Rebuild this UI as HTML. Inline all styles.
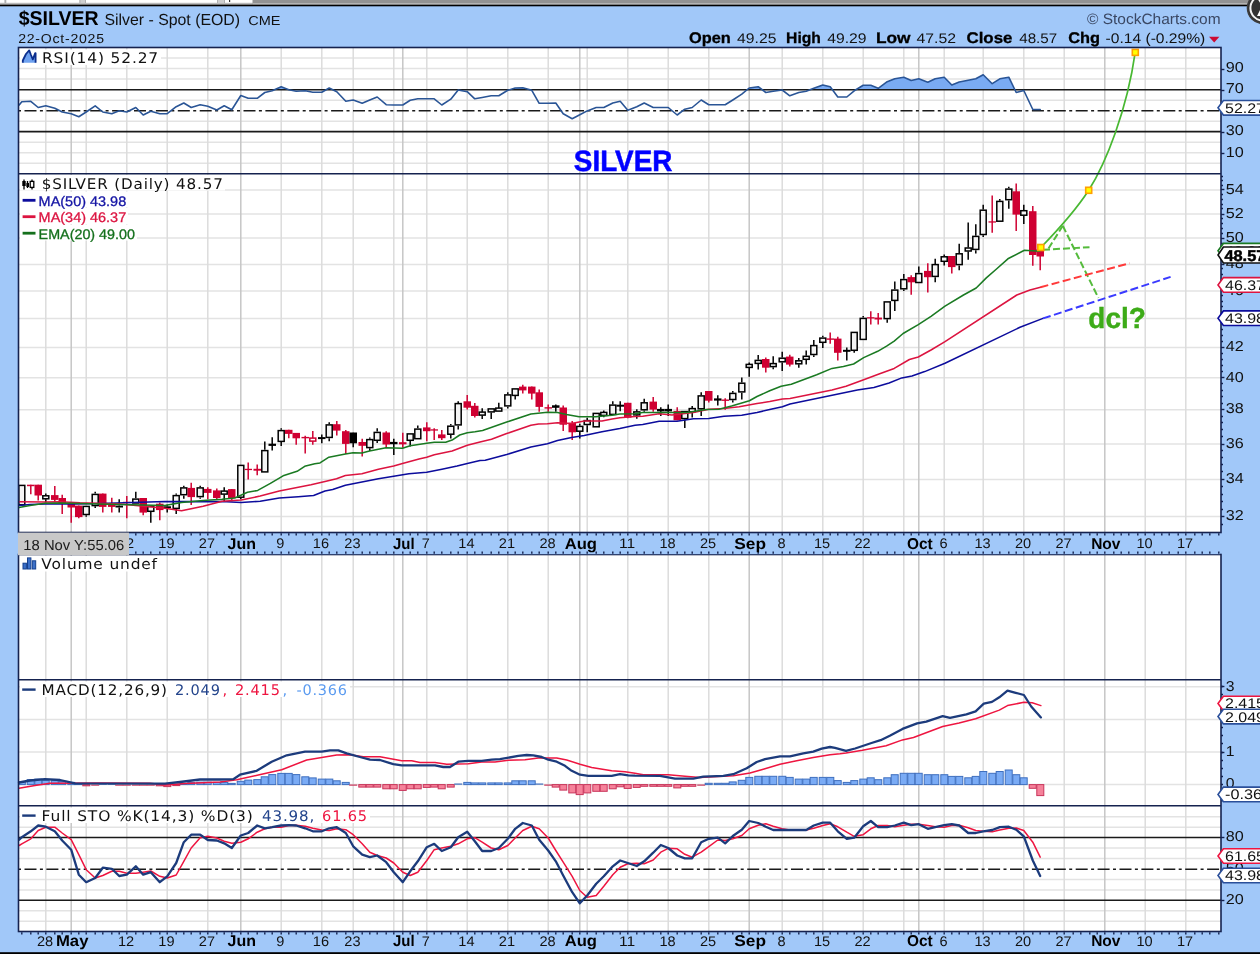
<!DOCTYPE html>
<html lang="en"><head><meta charset="utf-8"><title>$SILVER Silver - Spot (EOD) CME</title>
<style>html,body{margin:0;padding:0;background:#a1c8f9;overflow:hidden}svg{display:block;will-change:transform}text{white-space:pre}</style>
</head><body>
<svg width="1260" height="954" viewBox="0 0 1260 954" text-rendering="geometricPrecision">
<rect x="0" y="0" width="1260" height="954" fill="#a1c8f9"/>
<rect x="0" y="0" width="1260" height="5" fill="#ffffff"/>
<rect x="0" y="2.6" width="253" height="1" fill="#d9d9d9"/>
<rect x="0" y="3.4" width="253" height="1.4" fill="#9c9c9c"/>
<rect x="4.6" y="0" width="1.6" height="3" fill="#cfcfcf"/>
<rect x="4.6" y="0" width="0.8" height="3" fill="#a8a8a8"/>
<rect x="5.4" y="0" width="0.8" height="3" fill="#a8a8a8"/>
<rect x="79.5" y="0" width="6.5" height="3" fill="#cfcfcf"/>
<rect x="79.5" y="0" width="0.8" height="3" fill="#a8a8a8"/>
<rect x="85.2" y="0" width="0.8" height="3" fill="#a8a8a8"/>
<rect x="217" y="0" width="8" height="3" fill="#cfcfcf"/>
<rect x="217" y="0" width="0.8" height="3" fill="#a8a8a8"/>
<rect x="224.2" y="0" width="0.8" height="3" fill="#a8a8a8"/>
<rect x="229" y="0" width="1.2" height="2" fill="#333"/>
<rect x="252.5" y="0" width="1008" height="3.4" fill="#929292"/>
<rect x="252.5" y="3.3" width="1008" height="1.5" fill="#a6a6a6"/>
<rect x="0" y="4.7" width="1260" height="1.6" fill="#000"/>
<rect x="0" y="952.2" width="1260" height="2" fill="#000"/>
<circle cx="1263" cy="8" r="15.6" fill="#333" stroke="#3d3d3d" stroke-width="1.4"/>
<circle cx="1263" cy="8" r="12.6" fill="none" stroke="#f4f4f4" stroke-width="2"/>
<path d="M1257 -2 L1262 6 L1257 16 L1262 16 L1264 10 L1264 2 Z" fill="#fff"/>
<rect x="18.5" y="47.5" width="1202.5" height="485" fill="#fff"/>
<rect x="18.5" y="554.5" width="1202.5" height="377" fill="#fff"/>
<line x1="18.5" y1="163.3" x2="1221" y2="163.3" stroke="#e3e3e3" stroke-width="1.5"/>
<line x1="18.5" y1="152.8" x2="1221" y2="152.8" stroke="#e3e3e3" stroke-width="1.5"/>
<line x1="18.5" y1="142.2" x2="1221" y2="142.2" stroke="#e3e3e3" stroke-width="1.5"/>
<line x1="18.5" y1="121.2" x2="1221" y2="121.2" stroke="#e3e3e3" stroke-width="1.5"/>
<line x1="18.5" y1="100.2" x2="1221" y2="100.2" stroke="#e3e3e3" stroke-width="1.5"/>
<line x1="18.5" y1="79.1" x2="1221" y2="79.1" stroke="#e3e3e3" stroke-width="1.5"/>
<line x1="18.5" y1="68.6" x2="1221" y2="68.6" stroke="#e3e3e3" stroke-width="1.5"/>
<line x1="18.5" y1="58.1" x2="1221" y2="58.1" stroke="#e3e3e3" stroke-width="1.5"/>
<line x1="18.5" y1="189.9" x2="1221" y2="189.9" stroke="#e3e3e3" stroke-width="1.5"/>
<line x1="18.5" y1="214" x2="1221" y2="214" stroke="#e3e3e3" stroke-width="1.5"/>
<line x1="18.5" y1="238.1" x2="1221" y2="238.1" stroke="#e3e3e3" stroke-width="1.5"/>
<line x1="18.5" y1="264.6" x2="1221" y2="264.6" stroke="#e3e3e3" stroke-width="1.5"/>
<line x1="18.5" y1="291" x2="1221" y2="291" stroke="#e3e3e3" stroke-width="1.5"/>
<line x1="18.5" y1="318.4" x2="1221" y2="318.4" stroke="#e3e3e3" stroke-width="1.5"/>
<line x1="18.5" y1="347.6" x2="1221" y2="347.6" stroke="#e3e3e3" stroke-width="1.5"/>
<line x1="18.5" y1="377.8" x2="1221" y2="377.8" stroke="#e3e3e3" stroke-width="1.5"/>
<line x1="18.5" y1="409.7" x2="1221" y2="409.7" stroke="#e3e3e3" stroke-width="1.5"/>
<line x1="18.5" y1="444" x2="1221" y2="444" stroke="#e3e3e3" stroke-width="1.5"/>
<line x1="18.5" y1="479.5" x2="1221" y2="479.5" stroke="#e3e3e3" stroke-width="1.5"/>
<line x1="18.5" y1="516.4" x2="1221" y2="516.4" stroke="#e3e3e3" stroke-width="1.5"/>
<line x1="18.5" y1="784.6" x2="1221" y2="784.6" stroke="#e3e3e3" stroke-width="1.5"/>
<line x1="18.5" y1="752" x2="1221" y2="752" stroke="#e3e3e3" stroke-width="1.5"/>
<line x1="18.5" y1="719.4" x2="1221" y2="719.4" stroke="#e3e3e3" stroke-width="1.5"/>
<line x1="18.5" y1="686.8" x2="1221" y2="686.8" stroke="#e3e3e3" stroke-width="1.5"/>
<line x1="18.5" y1="921.3" x2="1221" y2="921.3" stroke="#e3e3e3" stroke-width="1.5"/>
<line x1="18.5" y1="910.8" x2="1221" y2="910.8" stroke="#e3e3e3" stroke-width="1.5"/>
<line x1="18.5" y1="889.9" x2="1221" y2="889.9" stroke="#e3e3e3" stroke-width="1.5"/>
<line x1="18.5" y1="879.5" x2="1221" y2="879.5" stroke="#e3e3e3" stroke-width="1.5"/>
<line x1="18.5" y1="858.6" x2="1221" y2="858.6" stroke="#e3e3e3" stroke-width="1.5"/>
<line x1="18.5" y1="848.1" x2="1221" y2="848.1" stroke="#e3e3e3" stroke-width="1.5"/>
<line x1="18.5" y1="827.2" x2="1221" y2="827.2" stroke="#e3e3e3" stroke-width="1.5"/>
<line x1="18.5" y1="816.8" x2="1221" y2="816.8" stroke="#e3e3e3" stroke-width="1.5"/>
<line x1="45.8" y1="47.5" x2="45.8" y2="532.5" stroke="#dcdcdc" stroke-width="1.5"/>
<line x1="45.8" y1="554.5" x2="45.8" y2="931.5" stroke="#dcdcdc" stroke-width="1.5"/>
<line x1="71.2" y1="47.5" x2="71.2" y2="532.5" stroke="#c6c6c6" stroke-width="1.5"/>
<line x1="71.2" y1="554.5" x2="71.2" y2="931.5" stroke="#c6c6c6" stroke-width="1.5"/>
<line x1="86.2" y1="47.5" x2="86.2" y2="532.5" stroke="#dcdcdc" stroke-width="1.5"/>
<line x1="86.2" y1="554.5" x2="86.2" y2="931.5" stroke="#dcdcdc" stroke-width="1.5"/>
<line x1="126.8" y1="47.5" x2="126.8" y2="532.5" stroke="#dcdcdc" stroke-width="1.5"/>
<line x1="126.8" y1="554.5" x2="126.8" y2="931.5" stroke="#dcdcdc" stroke-width="1.5"/>
<line x1="167.2" y1="47.5" x2="167.2" y2="532.5" stroke="#dcdcdc" stroke-width="1.5"/>
<line x1="167.2" y1="554.5" x2="167.2" y2="931.5" stroke="#dcdcdc" stroke-width="1.5"/>
<line x1="207.8" y1="47.5" x2="207.8" y2="532.5" stroke="#dcdcdc" stroke-width="1.5"/>
<line x1="207.8" y1="554.5" x2="207.8" y2="931.5" stroke="#dcdcdc" stroke-width="1.5"/>
<line x1="240.8" y1="47.5" x2="240.8" y2="532.5" stroke="#c6c6c6" stroke-width="1.5"/>
<line x1="240.8" y1="554.5" x2="240.8" y2="931.5" stroke="#c6c6c6" stroke-width="1.5"/>
<line x1="281.2" y1="47.5" x2="281.2" y2="532.5" stroke="#dcdcdc" stroke-width="1.5"/>
<line x1="281.2" y1="554.5" x2="281.2" y2="931.5" stroke="#dcdcdc" stroke-width="1.5"/>
<line x1="321.8" y1="47.5" x2="321.8" y2="532.5" stroke="#dcdcdc" stroke-width="1.5"/>
<line x1="321.8" y1="554.5" x2="321.8" y2="931.5" stroke="#dcdcdc" stroke-width="1.5"/>
<line x1="353.2" y1="47.5" x2="353.2" y2="532.5" stroke="#dcdcdc" stroke-width="1.5"/>
<line x1="353.2" y1="554.5" x2="353.2" y2="931.5" stroke="#dcdcdc" stroke-width="1.5"/>
<line x1="393.8" y1="47.5" x2="393.8" y2="532.5" stroke="#dcdcdc" stroke-width="1.5"/>
<line x1="393.8" y1="554.5" x2="393.8" y2="931.5" stroke="#dcdcdc" stroke-width="1.5"/>
<line x1="402.8" y1="47.5" x2="402.8" y2="532.5" stroke="#c6c6c6" stroke-width="1.5"/>
<line x1="402.8" y1="554.5" x2="402.8" y2="931.5" stroke="#c6c6c6" stroke-width="1.5"/>
<line x1="426.8" y1="47.5" x2="426.8" y2="532.5" stroke="#dcdcdc" stroke-width="1.5"/>
<line x1="426.8" y1="554.5" x2="426.8" y2="931.5" stroke="#dcdcdc" stroke-width="1.5"/>
<line x1="467.2" y1="47.5" x2="467.2" y2="532.5" stroke="#dcdcdc" stroke-width="1.5"/>
<line x1="467.2" y1="554.5" x2="467.2" y2="931.5" stroke="#dcdcdc" stroke-width="1.5"/>
<line x1="507.8" y1="47.5" x2="507.8" y2="532.5" stroke="#dcdcdc" stroke-width="1.5"/>
<line x1="507.8" y1="554.5" x2="507.8" y2="931.5" stroke="#dcdcdc" stroke-width="1.5"/>
<line x1="548.2" y1="47.5" x2="548.2" y2="532.5" stroke="#dcdcdc" stroke-width="1.5"/>
<line x1="548.2" y1="554.5" x2="548.2" y2="931.5" stroke="#dcdcdc" stroke-width="1.5"/>
<line x1="579.8" y1="47.5" x2="579.8" y2="532.5" stroke="#c6c6c6" stroke-width="1.5"/>
<line x1="579.8" y1="554.5" x2="579.8" y2="931.5" stroke="#c6c6c6" stroke-width="1.5"/>
<line x1="587.2" y1="47.5" x2="587.2" y2="532.5" stroke="#dcdcdc" stroke-width="1.5"/>
<line x1="587.2" y1="554.5" x2="587.2" y2="931.5" stroke="#dcdcdc" stroke-width="1.5"/>
<line x1="627.8" y1="47.5" x2="627.8" y2="532.5" stroke="#dcdcdc" stroke-width="1.5"/>
<line x1="627.8" y1="554.5" x2="627.8" y2="931.5" stroke="#dcdcdc" stroke-width="1.5"/>
<line x1="668.2" y1="47.5" x2="668.2" y2="532.5" stroke="#dcdcdc" stroke-width="1.5"/>
<line x1="668.2" y1="554.5" x2="668.2" y2="931.5" stroke="#dcdcdc" stroke-width="1.5"/>
<line x1="708.8" y1="47.5" x2="708.8" y2="532.5" stroke="#dcdcdc" stroke-width="1.5"/>
<line x1="708.8" y1="554.5" x2="708.8" y2="931.5" stroke="#dcdcdc" stroke-width="1.5"/>
<line x1="749.2" y1="47.5" x2="749.2" y2="532.5" stroke="#c6c6c6" stroke-width="1.5"/>
<line x1="749.2" y1="554.5" x2="749.2" y2="931.5" stroke="#c6c6c6" stroke-width="1.5"/>
<line x1="782.2" y1="47.5" x2="782.2" y2="532.5" stroke="#dcdcdc" stroke-width="1.5"/>
<line x1="782.2" y1="554.5" x2="782.2" y2="931.5" stroke="#dcdcdc" stroke-width="1.5"/>
<line x1="822.8" y1="47.5" x2="822.8" y2="532.5" stroke="#dcdcdc" stroke-width="1.5"/>
<line x1="822.8" y1="554.5" x2="822.8" y2="931.5" stroke="#dcdcdc" stroke-width="1.5"/>
<line x1="863.2" y1="47.5" x2="863.2" y2="532.5" stroke="#dcdcdc" stroke-width="1.5"/>
<line x1="863.2" y1="554.5" x2="863.2" y2="931.5" stroke="#dcdcdc" stroke-width="1.5"/>
<line x1="903.8" y1="47.5" x2="903.8" y2="532.5" stroke="#dcdcdc" stroke-width="1.5"/>
<line x1="903.8" y1="554.5" x2="903.8" y2="931.5" stroke="#dcdcdc" stroke-width="1.5"/>
<line x1="918.8" y1="47.5" x2="918.8" y2="532.5" stroke="#c6c6c6" stroke-width="1.5"/>
<line x1="918.8" y1="554.5" x2="918.8" y2="931.5" stroke="#c6c6c6" stroke-width="1.5"/>
<line x1="944.2" y1="47.5" x2="944.2" y2="532.5" stroke="#dcdcdc" stroke-width="1.5"/>
<line x1="944.2" y1="554.5" x2="944.2" y2="931.5" stroke="#dcdcdc" stroke-width="1.5"/>
<line x1="983.2" y1="47.5" x2="983.2" y2="532.5" stroke="#dcdcdc" stroke-width="1.5"/>
<line x1="983.2" y1="554.5" x2="983.2" y2="931.5" stroke="#dcdcdc" stroke-width="1.5"/>
<line x1="1023.8" y1="47.5" x2="1023.8" y2="532.5" stroke="#dcdcdc" stroke-width="1.5"/>
<line x1="1023.8" y1="554.5" x2="1023.8" y2="931.5" stroke="#dcdcdc" stroke-width="1.5"/>
<line x1="1064.2" y1="47.5" x2="1064.2" y2="532.5" stroke="#dcdcdc" stroke-width="1.5"/>
<line x1="1064.2" y1="554.5" x2="1064.2" y2="931.5" stroke="#dcdcdc" stroke-width="1.5"/>
<line x1="1104.8" y1="47.5" x2="1104.8" y2="532.5" stroke="#c6c6c6" stroke-width="1.5"/>
<line x1="1104.8" y1="554.5" x2="1104.8" y2="931.5" stroke="#c6c6c6" stroke-width="1.5"/>
<line x1="1145.2" y1="47.5" x2="1145.2" y2="532.5" stroke="#dcdcdc" stroke-width="1.5"/>
<line x1="1145.2" y1="554.5" x2="1145.2" y2="931.5" stroke="#dcdcdc" stroke-width="1.5"/>
<line x1="1185.8" y1="47.5" x2="1185.8" y2="532.5" stroke="#dcdcdc" stroke-width="1.5"/>
<line x1="1185.8" y1="554.5" x2="1185.8" y2="931.5" stroke="#dcdcdc" stroke-width="1.5"/>
<polygon fill="#7aabf3" points="274.4,89.8 281.2,86.7 288.8,89.7 289.2,89.8"/>
<polygon fill="#7aabf3" points="326,89.8 329.2,88 332.9,89.8"/>
<polygon fill="#7aabf3" points="509.4,89.8 515.2,88 522.8,87.7 530,89.8"/>
<polygon fill="#7aabf3" points="747.1,89.8 749.2,88 758.2,86.7 762.3,89.8"/>
<polygon fill="#7aabf3" points="809.9,89.8 813.8,88.3 822.8,85 830.2,86.7 832.5,89.8"/>
<polygon fill="#7aabf3" points="855.9,89.8 863.2,85.3 870.8,85.3 878.2,88.3 887.2,81.7 894.8,78.7 903.8,77.2 911.2,80.5 918.8,78.8 927.8,82.2 935.2,78.8 944.2,77.2 951.8,85 959.2,82 968.2,80.3 975.8,78.8 983.2,74.7 992.2,83.7 999.8,78.8 1008.8,77.2 1014.9,89.8"/>
<line x1="18.5" y1="89.8" x2="1221" y2="89.8" stroke="#1a1a1a" stroke-width="1.6"/>
<line x1="18.5" y1="131.6" x2="1221" y2="131.6" stroke="#1a1a1a" stroke-width="1.6"/>
<line x1="18.5" y1="110.7" x2="1221" y2="110.7" stroke="#1a1a1a" stroke-width="1.6" stroke-dasharray="12 3.4 3 3.5" stroke-dashoffset="15.9"/>
<polyline fill="none" stroke="#2a5596" stroke-width="1.6" stroke-linejoin="round" stroke-linecap="round" points="19.2,105 21.8,101.7 30.8,101.3 38.2,107.5 45.8,105.8 54.8,108.3 62.2,112 71.2,113.7 78.8,116.7 86.2,112 95.2,105.8 102.8,112 111.8,113.7 119.2,110.8 126.8,112 135.8,107.5 143.2,115 150.8,111.3 159.8,113.7 167.2,113.7 176.2,106.7 183.8,103 191.2,107.5 200.2,104.7 207.8,106.3 216.8,110 224.2,105.8 231.8,109.7 240.8,95.5 248.2,98.3 257.2,98.3 264.8,92.5 272.2,90.8 281.2,86.7 288.8,89.7 296.2,91.2 305.2,90.8 312.8,92.2 321.8,92.2 329.2,88 336.8,91.7 345.8,101.3 353.2,100 362.2,103.3 369.8,100 377.2,97 386.2,104.7 393.8,105 402.8,105 410.2,100.3 417.8,98.8 426.8,98.8 434.2,98.8 441.8,105 450.8,99.2 458.2,90 467.2,91.7 474.8,98.8 482.2,97.5 491.2,95.8 498.8,95.8 507.8,90.3 515.2,88 522.8,87.7 531.8,90.3 539.2,103.3 548.2,103.3 555.8,103 563.2,113.7 572.2,118.7 579.8,114.8 587.2,110.9 596.2,107.5 603.8,107.5 612.8,103 620.2,101.2 627.8,110.3 636.8,106.7 644.2,103 653.2,107.5 660.8,107.5 668.2,107.5 677.2,115 684.8,109.2 692.2,107.5 701.2,100 708.8,104.7 717.8,104.7 725.2,104.7 732.8,100 741.8,94.2 749.2,88 758.2,86.7 765.8,92.5 773.2,91.3 782.2,90 789.8,95.8 798.8,92.5 806.2,91.2 813.8,88.3 822.8,85 830.2,86.7 837.8,97 846.8,97 854.2,90.8 863.2,85.3 870.8,85.3 878.2,88.3 887.2,81.7 894.8,78.7 903.8,77.2 911.2,80.5 918.8,78.8 927.8,82.2 935.2,78.8 944.2,77.2 951.8,85 959.2,82 968.2,80.3 975.8,78.8 983.2,74.7 992.2,83.7 999.8,78.8 1008.8,77.2 1016.2,92.5 1023.8,90.5 1032.8,109.5 1040.2,109.5"/>
<line x1="21.8" y1="484.7" x2="21.8" y2="484.7" stroke="#000" stroke-width="1.5"/>
<line x1="21.8" y1="505.6" x2="21.8" y2="505.6" stroke="#000" stroke-width="1.5"/>
<rect x="18.8" y="485.4" width="6" height="19.4" fill="#f4f4f4" stroke="#000" stroke-width="1.5"/>
<line x1="30.8" y1="484.7" x2="30.8" y2="494.2" stroke="#cf0032" stroke-width="1.5"/>
<rect x="27" y="484.7" width="7.5" height="1.5" fill="#cf0032"/>
<line x1="38.2" y1="484.7" x2="38.2" y2="500.6" stroke="#cf0032" stroke-width="1.5"/>
<rect x="34.5" y="484.7" width="7.5" height="10.8" fill="#cf0032"/>
<line x1="45.8" y1="493.6" x2="45.8" y2="495.2" stroke="#000" stroke-width="1.5"/>
<line x1="45.8" y1="499.3" x2="45.8" y2="502.5" stroke="#000" stroke-width="1.5"/>
<rect x="42.8" y="495.8" width="6" height="3" fill="#f4f4f4" stroke="#000" stroke-width="1.5"/>
<line x1="54.8" y1="486" x2="54.8" y2="501.8" stroke="#cf0032" stroke-width="1.5"/>
<rect x="51" y="495.1" width="7.5" height="4.8" fill="#cf0032"/>
<line x1="62.2" y1="494.8" x2="62.2" y2="513.9" stroke="#cf0032" stroke-width="1.5"/>
<rect x="58.5" y="498" width="7.5" height="5.1" fill="#cf0032"/>
<line x1="71.2" y1="503.1" x2="71.2" y2="522.8" stroke="#cf0032" stroke-width="1.5"/>
<rect x="67.5" y="503.5" width="7.5" height="4" fill="#cf0032"/>
<line x1="78.8" y1="505.6" x2="78.8" y2="518.3" stroke="#cf0032" stroke-width="1.5"/>
<rect x="75" y="505.6" width="7.5" height="11.5" fill="#cf0032"/>
<line x1="86.2" y1="505.6" x2="86.2" y2="505.6" stroke="#000" stroke-width="1.5"/>
<line x1="86.2" y1="515.2" x2="86.2" y2="516.8" stroke="#000" stroke-width="1.5"/>
<rect x="83.2" y="506.4" width="6" height="8.1" fill="#f4f4f4" stroke="#000" stroke-width="1.5"/>
<line x1="95.2" y1="491.7" x2="95.2" y2="493.6" stroke="#000" stroke-width="1.5"/>
<line x1="95.2" y1="506.3" x2="95.2" y2="507.9" stroke="#000" stroke-width="1.5"/>
<rect x="92.2" y="494.4" width="6" height="11.2" fill="#f4f4f4" stroke="#000" stroke-width="1.5"/>
<line x1="102.8" y1="493.6" x2="102.8" y2="512.6" stroke="#cf0032" stroke-width="1.5"/>
<rect x="99" y="493.6" width="7.5" height="13.3" fill="#cf0032"/>
<line x1="111.8" y1="497.8" x2="111.8" y2="512.6" stroke="#cf0032" stroke-width="1.5"/>
<rect x="108" y="503.1" width="7.5" height="3.8" fill="#cf0032"/>
<line x1="119.2" y1="499.3" x2="119.2" y2="505.6" stroke="#000" stroke-width="1.5"/>
<line x1="119.2" y1="507.5" x2="119.2" y2="512.6" stroke="#000" stroke-width="1.5"/>
<rect x="115.5" y="505.6" width="7.5" height="1.9" fill="#000"/>
<line x1="126.8" y1="496.1" x2="126.8" y2="518.3" stroke="#cf0032" stroke-width="1.5"/>
<rect x="123" y="501.8" width="7.5" height="1.3" fill="#cf0032"/>
<line x1="135.8" y1="491.7" x2="135.8" y2="498.3" stroke="#000" stroke-width="1.5"/>
<line x1="135.8" y1="503.7" x2="135.8" y2="503.7" stroke="#000" stroke-width="1.5"/>
<rect x="132.8" y="499.1" width="6" height="3.9" fill="#f4f4f4" stroke="#000" stroke-width="1.5"/>
<line x1="143.2" y1="498" x2="143.2" y2="515.2" stroke="#cf0032" stroke-width="1.5"/>
<rect x="139.5" y="498" width="7.5" height="14.6" fill="#cf0032"/>
<line x1="150.8" y1="505" x2="150.8" y2="505.6" stroke="#000" stroke-width="1.5"/>
<line x1="150.8" y1="512" x2="150.8" y2="522.8" stroke="#000" stroke-width="1.5"/>
<rect x="147.8" y="506.4" width="6" height="4.9" fill="#f4f4f4" stroke="#000" stroke-width="1.5"/>
<line x1="159.8" y1="502.5" x2="159.8" y2="520.2" stroke="#cf0032" stroke-width="1.5"/>
<rect x="156" y="503.7" width="7.5" height="6.4" fill="#cf0032"/>
<line x1="167.2" y1="504.4" x2="167.2" y2="506.3" stroke="#000" stroke-width="1.5"/>
<line x1="167.2" y1="508.2" x2="167.2" y2="512.6" stroke="#000" stroke-width="1.5"/>
<rect x="163.5" y="506.3" width="7.5" height="1.9" fill="#000"/>
<line x1="176.2" y1="493.6" x2="176.2" y2="494.8" stroke="#000" stroke-width="1.5"/>
<line x1="176.2" y1="509.1" x2="176.2" y2="513.9" stroke="#000" stroke-width="1.5"/>
<rect x="173.2" y="495.6" width="6" height="12.8" fill="#f4f4f4" stroke="#000" stroke-width="1.5"/>
<line x1="183.8" y1="485.7" x2="183.8" y2="487.2" stroke="#000" stroke-width="1.5"/>
<line x1="183.8" y1="495.5" x2="183.8" y2="498.7" stroke="#000" stroke-width="1.5"/>
<rect x="180.8" y="487.9" width="6" height="6.8" fill="#f4f4f4" stroke="#000" stroke-width="1.5"/>
<line x1="191.2" y1="482.8" x2="191.2" y2="505" stroke="#cf0032" stroke-width="1.5"/>
<rect x="187.5" y="487.9" width="7.5" height="9.2" fill="#cf0032"/>
<line x1="200.2" y1="485.7" x2="200.2" y2="487.2" stroke="#000" stroke-width="1.5"/>
<line x1="200.2" y1="497.4" x2="200.2" y2="498.7" stroke="#000" stroke-width="1.5"/>
<rect x="197.2" y="487.9" width="6" height="8.7" fill="#f4f4f4" stroke="#000" stroke-width="1.5"/>
<line x1="207.8" y1="487.2" x2="207.8" y2="499.3" stroke="#cf0032" stroke-width="1.5"/>
<rect x="204" y="488.9" width="7.5" height="4" fill="#cf0032"/>
<line x1="216.8" y1="488.5" x2="216.8" y2="499.3" stroke="#cf0032" stroke-width="1.5"/>
<rect x="213" y="490.4" width="7.5" height="7.6" fill="#cf0032"/>
<line x1="224.2" y1="487.2" x2="224.2" y2="491" stroke="#000" stroke-width="1.5"/>
<line x1="224.2" y1="494.2" x2="224.2" y2="501.2" stroke="#000" stroke-width="1.5"/>
<rect x="221.2" y="491.1" width="6" height="3" fill="#f4f4f4" stroke="#000" stroke-width="1.5"/>
<line x1="231.8" y1="489.1" x2="231.8" y2="501.2" stroke="#cf0032" stroke-width="1.5"/>
<rect x="228" y="489.1" width="7.5" height="8.9" fill="#cf0032"/>
<line x1="240.8" y1="464.7" x2="240.8" y2="464.7" stroke="#000" stroke-width="1.5"/>
<line x1="240.8" y1="498" x2="240.8" y2="499.3" stroke="#000" stroke-width="1.5"/>
<rect x="237.8" y="465.4" width="6" height="31.8" fill="#f4f4f4" stroke="#000" stroke-width="1.5"/>
<line x1="248.2" y1="462.5" x2="248.2" y2="479.6" stroke="#cf0032" stroke-width="1.5"/>
<rect x="244.5" y="468.8" width="7.5" height="1.3" fill="#cf0032"/>
<line x1="257.2" y1="464.4" x2="257.2" y2="475.2" stroke="#cf0032" stroke-width="1.5"/>
<rect x="253.5" y="468.8" width="7.5" height="1.9" fill="#cf0032"/>
<line x1="264.8" y1="441.5" x2="264.8" y2="449.8" stroke="#000" stroke-width="1.5"/>
<line x1="264.8" y1="472.6" x2="264.8" y2="472.6" stroke="#000" stroke-width="1.5"/>
<rect x="261.8" y="450.6" width="6" height="21.3" fill="#f4f4f4" stroke="#000" stroke-width="1.5"/>
<line x1="272.2" y1="437.3" x2="272.2" y2="450.4" stroke="#000" stroke-width="1.5"/>
<rect x="268.5" y="443.7" width="7.5" height="2.2" fill="#000"/>
<line x1="281.2" y1="428.2" x2="281.2" y2="429.8" stroke="#000" stroke-width="1.5"/>
<line x1="281.2" y1="442.1" x2="281.2" y2="446" stroke="#000" stroke-width="1.5"/>
<rect x="278.2" y="430.6" width="6" height="10.8" fill="#f4f4f4" stroke="#000" stroke-width="1.5"/>
<line x1="288.8" y1="429.8" x2="288.8" y2="438.3" stroke="#cf0032" stroke-width="1.5"/>
<rect x="285" y="429.8" width="7.5" height="4.1" fill="#cf0032"/>
<line x1="296.2" y1="432.9" x2="296.2" y2="444.7" stroke="#cf0032" stroke-width="1.5"/>
<rect x="292.5" y="432.9" width="7.5" height="5.4" fill="#cf0032"/>
<line x1="305.2" y1="435.8" x2="305.2" y2="453.6" stroke="#cf0032" stroke-width="1.5"/>
<rect x="301.5" y="436.9" width="7.5" height="1.4" fill="#cf0032"/>
<line x1="312.8" y1="431.1" x2="312.8" y2="438.3" stroke="#cf0032" stroke-width="1.5"/>
<line x1="312.8" y1="440.9" x2="312.8" y2="444.7" stroke="#cf0032" stroke-width="1.5"/>
<rect x="309.8" y="438.1" width="6" height="3" fill="#fff" stroke="#cf0032" stroke-width="1.5"/>
<line x1="321.8" y1="434.4" x2="321.8" y2="443.3" stroke="#000" stroke-width="1.5"/>
<rect x="318" y="437.1" width="7.5" height="2" fill="#000"/>
<line x1="329.2" y1="422.3" x2="329.2" y2="424.2" stroke="#000" stroke-width="1.5"/>
<line x1="329.2" y1="438.2" x2="329.2" y2="441.3" stroke="#000" stroke-width="1.5"/>
<rect x="326.2" y="424.9" width="6" height="12.5" fill="#f4f4f4" stroke="#000" stroke-width="1.5"/>
<line x1="336.8" y1="421" x2="336.8" y2="435.6" stroke="#cf0032" stroke-width="1.5"/>
<rect x="333" y="424.2" width="7.5" height="6.4" fill="#cf0032"/>
<line x1="345.8" y1="429.9" x2="345.8" y2="454" stroke="#cf0032" stroke-width="1.5"/>
<rect x="342" y="431.2" width="7.5" height="12.7" fill="#cf0032"/>
<line x1="353.2" y1="432.8" x2="353.2" y2="447.3" stroke="#000" stroke-width="1.5"/>
<rect x="349.5" y="432.5" width="7.5" height="10.8" fill="#000"/>
<line x1="362.2" y1="438.8" x2="362.2" y2="456.6" stroke="#cf0032" stroke-width="1.5"/>
<rect x="358.5" y="442" width="7.5" height="3.8" fill="#cf0032"/>
<line x1="369.8" y1="437.5" x2="369.8" y2="438.8" stroke="#000" stroke-width="1.5"/>
<line x1="369.8" y1="448.3" x2="369.8" y2="450.9" stroke="#000" stroke-width="1.5"/>
<rect x="366.8" y="439.6" width="6" height="8" fill="#f4f4f4" stroke="#000" stroke-width="1.5"/>
<line x1="377.2" y1="428.3" x2="377.2" y2="431.6" stroke="#000" stroke-width="1.5"/>
<line x1="377.2" y1="441" x2="377.2" y2="443" stroke="#000" stroke-width="1.5"/>
<rect x="374.2" y="432.4" width="6" height="7.9" fill="#f4f4f4" stroke="#000" stroke-width="1.5"/>
<line x1="386.2" y1="431.2" x2="386.2" y2="447.7" stroke="#cf0032" stroke-width="1.5"/>
<rect x="382.5" y="432.5" width="7.5" height="12" fill="#cf0032"/>
<line x1="393.8" y1="438.8" x2="393.8" y2="454.9" stroke="#000" stroke-width="1.5"/>
<rect x="390" y="441.9" width="7.5" height="2.3" fill="#000"/>
<line x1="402.8" y1="432.8" x2="402.8" y2="447.7" stroke="#cf0032" stroke-width="1.5"/>
<rect x="399" y="442.2" width="7.5" height="2.1" fill="#cf0032"/>
<line x1="410.2" y1="433.1" x2="410.2" y2="433.1" stroke="#000" stroke-width="1.5"/>
<line x1="410.2" y1="441" x2="410.2" y2="446.4" stroke="#000" stroke-width="1.5"/>
<rect x="407.2" y="433.9" width="6" height="6.4" fill="#f4f4f4" stroke="#000" stroke-width="1.5"/>
<line x1="417.8" y1="425.5" x2="417.8" y2="428.3" stroke="#000" stroke-width="1.5"/>
<line x1="417.8" y1="439.4" x2="417.8" y2="439.4" stroke="#000" stroke-width="1.5"/>
<rect x="414.8" y="429.1" width="6" height="9.6" fill="#f4f4f4" stroke="#000" stroke-width="1.5"/>
<line x1="426.8" y1="422.3" x2="426.8" y2="441.3" stroke="#cf0032" stroke-width="1.5"/>
<rect x="423" y="427.4" width="7.5" height="3.8" fill="#cf0032"/>
<line x1="434.2" y1="428.3" x2="434.2" y2="440.1" stroke="#cf0032" stroke-width="1.5"/>
<rect x="430.5" y="429.3" width="7.5" height="1.3" fill="#cf0032"/>
<line x1="441.8" y1="429.9" x2="441.8" y2="440.1" stroke="#cf0032" stroke-width="1.5"/>
<rect x="438" y="434.4" width="7.5" height="3.8" fill="#cf0032"/>
<line x1="450.8" y1="424" x2="450.8" y2="425.5" stroke="#000" stroke-width="1.5"/>
<line x1="450.8" y1="435" x2="450.8" y2="438.4" stroke="#000" stroke-width="1.5"/>
<rect x="447.8" y="426.2" width="6" height="8" fill="#f4f4f4" stroke="#000" stroke-width="1.5"/>
<line x1="458.2" y1="401.3" x2="458.2" y2="402.9" stroke="#000" stroke-width="1.5"/>
<line x1="458.2" y1="425.7" x2="458.2" y2="429.5" stroke="#000" stroke-width="1.5"/>
<rect x="455.2" y="403.6" width="6" height="21.3" fill="#f4f4f4" stroke="#000" stroke-width="1.5"/>
<line x1="467.2" y1="395" x2="467.2" y2="409.6" stroke="#cf0032" stroke-width="1.5"/>
<rect x="463.5" y="401.3" width="7.5" height="6.4" fill="#cf0032"/>
<line x1="474.8" y1="402.9" x2="474.8" y2="417.6" stroke="#cf0032" stroke-width="1.5"/>
<rect x="471" y="405.8" width="7.5" height="10.2" fill="#cf0032"/>
<line x1="482.2" y1="408.2" x2="482.2" y2="412" stroke="#000" stroke-width="1.5"/>
<line x1="482.2" y1="415.2" x2="482.2" y2="419" stroke="#000" stroke-width="1.5"/>
<rect x="479.2" y="412.1" width="6" height="3" fill="#f4f4f4" stroke="#000" stroke-width="1.5"/>
<line x1="491.2" y1="408.2" x2="491.2" y2="408.2" stroke="#000" stroke-width="1.5"/>
<line x1="491.2" y1="412.6" x2="491.2" y2="419" stroke="#000" stroke-width="1.5"/>
<rect x="488.2" y="408.9" width="6" height="3" fill="#f4f4f4" stroke="#000" stroke-width="1.5"/>
<line x1="498.8" y1="402.8" x2="498.8" y2="408.2" stroke="#000" stroke-width="1.5"/>
<line x1="498.8" y1="411" x2="498.8" y2="411" stroke="#000" stroke-width="1.5"/>
<rect x="495.8" y="408.1" width="6" height="3" fill="#f4f4f4" stroke="#000" stroke-width="1.5"/>
<line x1="507.8" y1="392.3" x2="507.8" y2="394.2" stroke="#000" stroke-width="1.5"/>
<line x1="507.8" y1="406.7" x2="507.8" y2="408.4" stroke="#000" stroke-width="1.5"/>
<rect x="504.8" y="394.9" width="6" height="11" fill="#f4f4f4" stroke="#000" stroke-width="1.5"/>
<line x1="515.2" y1="388.1" x2="515.2" y2="388.1" stroke="#000" stroke-width="1.5"/>
<line x1="515.2" y1="396.1" x2="515.2" y2="399.5" stroke="#000" stroke-width="1.5"/>
<rect x="512.2" y="388.9" width="6" height="6.5" fill="#f4f4f4" stroke="#000" stroke-width="1.5"/>
<line x1="522.8" y1="384.7" x2="522.8" y2="393.6" stroke="#cf0032" stroke-width="1.5"/>
<rect x="519" y="386.6" width="7.5" height="3.8" fill="#cf0032"/>
<line x1="531.8" y1="386.6" x2="531.8" y2="399.5" stroke="#cf0032" stroke-width="1.5"/>
<rect x="528" y="386.6" width="7.5" height="7" fill="#cf0032"/>
<line x1="539.2" y1="389.4" x2="539.2" y2="411.7" stroke="#cf0032" stroke-width="1.5"/>
<rect x="535.5" y="392.3" width="7.5" height="14.6" fill="#cf0032"/>
<line x1="548.2" y1="404.4" x2="548.2" y2="411.7" stroke="#cf0032" stroke-width="1.5"/>
<rect x="544.5" y="407.2" width="7.5" height="1.4" fill="#cf0032"/>
<line x1="555.8" y1="404.4" x2="555.8" y2="411.7" stroke="#000" stroke-width="1.5"/>
<rect x="552" y="405.3" width="7.5" height="2.5" fill="#000"/>
<line x1="563.2" y1="405.6" x2="563.2" y2="431" stroke="#cf0032" stroke-width="1.5"/>
<rect x="559.5" y="407.5" width="7.5" height="17.2" fill="#cf0032"/>
<line x1="572.2" y1="420.9" x2="572.2" y2="439.9" stroke="#cf0032" stroke-width="1.5"/>
<rect x="568.5" y="422.8" width="7.5" height="9.5" fill="#cf0032"/>
<line x1="579.8" y1="423.7" x2="579.8" y2="425.7" stroke="#000" stroke-width="1.5"/>
<line x1="579.8" y1="432" x2="579.8" y2="438.4" stroke="#000" stroke-width="1.5"/>
<rect x="576.8" y="426.4" width="6" height="4.8" fill="#f4f4f4" stroke="#000" stroke-width="1.5"/>
<line x1="587.2" y1="417.7" x2="587.2" y2="419.9" stroke="#000" stroke-width="1.5"/>
<line x1="587.2" y1="425.3" x2="587.2" y2="432.3" stroke="#000" stroke-width="1.5"/>
<rect x="584.2" y="420.6" width="6" height="3.9" fill="#f4f4f4" stroke="#000" stroke-width="1.5"/>
<line x1="596.2" y1="412.6" x2="596.2" y2="412.6" stroke="#000" stroke-width="1.5"/>
<line x1="596.2" y1="427.5" x2="596.2" y2="427.5" stroke="#000" stroke-width="1.5"/>
<rect x="593.2" y="413.4" width="6" height="13.4" fill="#f4f4f4" stroke="#000" stroke-width="1.5"/>
<line x1="603.8" y1="410.5" x2="603.8" y2="412.6" stroke="#000" stroke-width="1.5"/>
<line x1="603.8" y1="415.2" x2="603.8" y2="417.3" stroke="#000" stroke-width="1.5"/>
<rect x="600.8" y="412.4" width="6" height="3" fill="#f4f4f4" stroke="#000" stroke-width="1.5"/>
<line x1="612.8" y1="401.2" x2="612.8" y2="404.4" stroke="#000" stroke-width="1.5"/>
<line x1="612.8" y1="415.2" x2="612.8" y2="415.2" stroke="#000" stroke-width="1.5"/>
<rect x="609.8" y="405.1" width="6" height="9.3" fill="#f4f4f4" stroke="#000" stroke-width="1.5"/>
<line x1="620.2" y1="401.2" x2="620.2" y2="411.3" stroke="#000" stroke-width="1.5"/>
<rect x="616.5" y="404.7" width="7.5" height="2" fill="#000"/>
<line x1="627.8" y1="402.8" x2="627.8" y2="418.3" stroke="#cf0032" stroke-width="1.5"/>
<rect x="624" y="402.8" width="7.5" height="14.9" fill="#cf0032"/>
<line x1="636.8" y1="409.2" x2="636.8" y2="411.7" stroke="#000" stroke-width="1.5"/>
<line x1="636.8" y1="415.2" x2="636.8" y2="418.7" stroke="#000" stroke-width="1.5"/>
<rect x="633.8" y="411.9" width="6" height="3" fill="#f4f4f4" stroke="#000" stroke-width="1.5"/>
<line x1="644.2" y1="398.7" x2="644.2" y2="402" stroke="#000" stroke-width="1.5"/>
<line x1="644.2" y1="410.5" x2="644.2" y2="411.7" stroke="#000" stroke-width="1.5"/>
<rect x="641.2" y="402.8" width="6" height="7" fill="#f4f4f4" stroke="#000" stroke-width="1.5"/>
<line x1="653.2" y1="396.9" x2="653.2" y2="411.7" stroke="#cf0032" stroke-width="1.5"/>
<rect x="649.5" y="401.6" width="7.5" height="8" fill="#cf0032"/>
<line x1="660.8" y1="407.3" x2="660.8" y2="415.9" stroke="#000" stroke-width="1.5"/>
<rect x="657" y="408.9" width="7.5" height="2.5" fill="#000"/>
<line x1="668.2" y1="404.5" x2="668.2" y2="415.9" stroke="#000" stroke-width="1.5"/>
<rect x="664.5" y="408.9" width="7.5" height="2.5" fill="#000"/>
<line x1="677.2" y1="407.3" x2="677.2" y2="420.3" stroke="#cf0032" stroke-width="1.5"/>
<rect x="673.5" y="410.9" width="7.5" height="9.4" fill="#cf0032"/>
<line x1="684.8" y1="410.9" x2="684.8" y2="410.9" stroke="#000" stroke-width="1.5"/>
<line x1="684.8" y1="419.4" x2="684.8" y2="427.9" stroke="#000" stroke-width="1.5"/>
<rect x="681.8" y="411.6" width="6" height="7" fill="#f4f4f4" stroke="#000" stroke-width="1.5"/>
<line x1="692.2" y1="406" x2="692.2" y2="407.9" stroke="#000" stroke-width="1.5"/>
<line x1="692.2" y1="412.6" x2="692.2" y2="417.5" stroke="#000" stroke-width="1.5"/>
<rect x="689.2" y="408.6" width="6" height="3.2" fill="#f4f4f4" stroke="#000" stroke-width="1.5"/>
<line x1="701.2" y1="392.3" x2="701.2" y2="395.2" stroke="#000" stroke-width="1.5"/>
<line x1="701.2" y1="409.6" x2="701.2" y2="415.9" stroke="#000" stroke-width="1.5"/>
<rect x="698.2" y="395.9" width="6" height="12.9" fill="#f4f4f4" stroke="#000" stroke-width="1.5"/>
<line x1="708.8" y1="391" x2="708.8" y2="402.5" stroke="#cf0032" stroke-width="1.5"/>
<rect x="705" y="391" width="7.5" height="9.7" fill="#cf0032"/>
<line x1="717.8" y1="395.2" x2="717.8" y2="405.4" stroke="#000" stroke-width="1.5"/>
<rect x="714" y="398.4" width="7.5" height="2.2" fill="#000"/>
<line x1="725.2" y1="398.2" x2="725.2" y2="409.8" stroke="#cf0032" stroke-width="1.5"/>
<rect x="721.5" y="399.5" width="7.5" height="1.4" fill="#cf0032"/>
<line x1="732.8" y1="391" x2="732.8" y2="392.7" stroke="#000" stroke-width="1.5"/>
<line x1="732.8" y1="400.3" x2="732.8" y2="402.5" stroke="#000" stroke-width="1.5"/>
<rect x="729.8" y="393.4" width="6" height="6.1" fill="#f4f4f4" stroke="#000" stroke-width="1.5"/>
<line x1="741.8" y1="377.5" x2="741.8" y2="382.5" stroke="#000" stroke-width="1.5"/>
<line x1="741.8" y1="392.7" x2="741.8" y2="399.4" stroke="#000" stroke-width="1.5"/>
<rect x="738.8" y="383.2" width="6" height="8.7" fill="#f4f4f4" stroke="#000" stroke-width="1.5"/>
<line x1="749.2" y1="362.6" x2="749.2" y2="364.4" stroke="#000" stroke-width="1.5"/>
<line x1="749.2" y1="367.3" x2="749.2" y2="376.8" stroke="#000" stroke-width="1.5"/>
<rect x="746.2" y="364.4" width="6" height="3" fill="#f4f4f4" stroke="#000" stroke-width="1.5"/>
<line x1="758.2" y1="355" x2="758.2" y2="359.7" stroke="#000" stroke-width="1.5"/>
<line x1="758.2" y1="364.1" x2="758.2" y2="369.5" stroke="#000" stroke-width="1.5"/>
<rect x="755.2" y="360.4" width="6" height="3" fill="#f4f4f4" stroke="#000" stroke-width="1.5"/>
<line x1="765.8" y1="357.5" x2="765.8" y2="372.4" stroke="#cf0032" stroke-width="1.5"/>
<rect x="762" y="359" width="7.5" height="8.7" fill="#cf0032"/>
<line x1="773.2" y1="356.3" x2="773.2" y2="362.9" stroke="#000" stroke-width="1.5"/>
<line x1="773.2" y1="367.3" x2="773.2" y2="369.2" stroke="#000" stroke-width="1.5"/>
<rect x="770.2" y="363.6" width="6" height="3" fill="#f4f4f4" stroke="#000" stroke-width="1.5"/>
<line x1="782.2" y1="351.7" x2="782.2" y2="357.5" stroke="#000" stroke-width="1.5"/>
<line x1="782.2" y1="362.6" x2="782.2" y2="371.1" stroke="#000" stroke-width="1.5"/>
<rect x="779.2" y="358.2" width="6" height="3.6" fill="#f4f4f4" stroke="#000" stroke-width="1.5"/>
<line x1="789.8" y1="354.8" x2="789.8" y2="366.5" stroke="#cf0032" stroke-width="1.5"/>
<rect x="786" y="356.6" width="7.5" height="8" fill="#cf0032"/>
<line x1="798.8" y1="357.9" x2="798.8" y2="360.4" stroke="#000" stroke-width="1.5"/>
<line x1="798.8" y1="364.2" x2="798.8" y2="367.8" stroke="#000" stroke-width="1.5"/>
<rect x="795.8" y="360.8" width="6" height="3" fill="#f4f4f4" stroke="#000" stroke-width="1.5"/>
<line x1="806.2" y1="350.6" x2="806.2" y2="355.7" stroke="#000" stroke-width="1.5"/>
<line x1="806.2" y1="359.9" x2="806.2" y2="364.6" stroke="#000" stroke-width="1.5"/>
<rect x="803.2" y="356.3" width="6" height="3" fill="#f4f4f4" stroke="#000" stroke-width="1.5"/>
<line x1="813.8" y1="340.1" x2="813.8" y2="344.9" stroke="#000" stroke-width="1.5"/>
<line x1="813.8" y1="355.3" x2="813.8" y2="357" stroke="#000" stroke-width="1.5"/>
<rect x="810.8" y="345.6" width="6" height="8.9" fill="#f4f4f4" stroke="#000" stroke-width="1.5"/>
<line x1="822.8" y1="335.8" x2="822.8" y2="337.3" stroke="#000" stroke-width="1.5"/>
<line x1="822.8" y1="343" x2="822.8" y2="348.1" stroke="#000" stroke-width="1.5"/>
<rect x="819.8" y="338.1" width="6" height="4.2" fill="#f4f4f4" stroke="#000" stroke-width="1.5"/>
<line x1="830.2" y1="332.5" x2="830.2" y2="343.7" stroke="#cf0032" stroke-width="1.5"/>
<rect x="826.5" y="338.4" width="7.5" height="1.4" fill="#cf0032"/>
<line x1="837.8" y1="336.7" x2="837.8" y2="360.4" stroke="#cf0032" stroke-width="1.5"/>
<rect x="834" y="338.6" width="7.5" height="14.2" fill="#cf0032"/>
<line x1="846.8" y1="347.5" x2="846.8" y2="360.4" stroke="#000" stroke-width="1.5"/>
<rect x="843" y="349.8" width="7.5" height="2" fill="#000"/>
<line x1="854.2" y1="331.6" x2="854.2" y2="331.6" stroke="#000" stroke-width="1.5"/>
<line x1="854.2" y1="351" x2="854.2" y2="352.8" stroke="#000" stroke-width="1.5"/>
<rect x="851.2" y="332.4" width="6" height="17.9" fill="#f4f4f4" stroke="#000" stroke-width="1.5"/>
<line x1="863.2" y1="316" x2="863.2" y2="317.6" stroke="#000" stroke-width="1.5"/>
<line x1="863.2" y1="340.1" x2="863.2" y2="340.1" stroke="#000" stroke-width="1.5"/>
<rect x="860.2" y="318.4" width="6" height="21" fill="#f4f4f4" stroke="#000" stroke-width="1.5"/>
<line x1="870.8" y1="311.3" x2="870.8" y2="324.6" stroke="#cf0032" stroke-width="1.5"/>
<rect x="867" y="317.2" width="7.5" height="1.3" fill="#cf0032"/>
<line x1="878.2" y1="312.9" x2="878.2" y2="324.6" stroke="#cf0032" stroke-width="1.5"/>
<rect x="874.5" y="317.6" width="7.5" height="1.9" fill="#cf0032"/>
<line x1="887.2" y1="301.1" x2="887.2" y2="301.1" stroke="#000" stroke-width="1.5"/>
<line x1="887.2" y1="319.3" x2="887.2" y2="322.7" stroke="#000" stroke-width="1.5"/>
<rect x="884.2" y="301.9" width="6" height="16.7" fill="#f4f4f4" stroke="#000" stroke-width="1.5"/>
<line x1="894.8" y1="281.4" x2="894.8" y2="289.3" stroke="#000" stroke-width="1.5"/>
<line x1="894.8" y1="301.1" x2="894.8" y2="310.9" stroke="#000" stroke-width="1.5"/>
<rect x="891.8" y="290.1" width="6" height="10.3" fill="#f4f4f4" stroke="#000" stroke-width="1.5"/>
<line x1="903.8" y1="274" x2="903.8" y2="278.8" stroke="#000" stroke-width="1.5"/>
<line x1="903.8" y1="289.5" x2="903.8" y2="291" stroke="#000" stroke-width="1.5"/>
<rect x="900.8" y="279.6" width="6" height="9.2" fill="#f4f4f4" stroke="#000" stroke-width="1.5"/>
<line x1="911.2" y1="275.3" x2="911.2" y2="294.7" stroke="#cf0032" stroke-width="1.5"/>
<rect x="907.5" y="277.1" width="7.5" height="5.2" fill="#cf0032"/>
<line x1="918.8" y1="266.4" x2="918.8" y2="272.8" stroke="#000" stroke-width="1.5"/>
<line x1="918.8" y1="283.2" x2="918.8" y2="283.2" stroke="#000" stroke-width="1.5"/>
<rect x="915.8" y="273.6" width="6" height="8.9" fill="#f4f4f4" stroke="#000" stroke-width="1.5"/>
<line x1="927.8" y1="263.3" x2="927.8" y2="292.5" stroke="#cf0032" stroke-width="1.5"/>
<rect x="924" y="270.9" width="7.5" height="6.3" fill="#cf0032"/>
<line x1="935.2" y1="258.8" x2="935.2" y2="263.9" stroke="#000" stroke-width="1.5"/>
<line x1="935.2" y1="277.2" x2="935.2" y2="282.3" stroke="#000" stroke-width="1.5"/>
<rect x="932.2" y="264.6" width="6" height="11.8" fill="#f4f4f4" stroke="#000" stroke-width="1.5"/>
<line x1="944.2" y1="254.4" x2="944.2" y2="256" stroke="#000" stroke-width="1.5"/>
<line x1="944.2" y1="262" x2="944.2" y2="265.4" stroke="#000" stroke-width="1.5"/>
<rect x="941.2" y="256.8" width="6" height="4.5" fill="#f4f4f4" stroke="#000" stroke-width="1.5"/>
<line x1="951.8" y1="256" x2="951.8" y2="273.4" stroke="#cf0032" stroke-width="1.5"/>
<rect x="948" y="256" width="7.5" height="11.1" fill="#cf0032"/>
<line x1="959.2" y1="243.8" x2="959.2" y2="253.1" stroke="#000" stroke-width="1.5"/>
<line x1="959.2" y1="265.4" x2="959.2" y2="270.2" stroke="#000" stroke-width="1.5"/>
<rect x="956.2" y="253.8" width="6" height="10.8" fill="#f4f4f4" stroke="#000" stroke-width="1.5"/>
<line x1="968.2" y1="222.6" x2="968.2" y2="247.6" stroke="#000" stroke-width="1.5"/>
<line x1="968.2" y1="251.4" x2="968.2" y2="259.8" stroke="#000" stroke-width="1.5"/>
<rect x="965.2" y="248" width="6" height="3" fill="#f4f4f4" stroke="#000" stroke-width="1.5"/>
<line x1="975.8" y1="224.3" x2="975.8" y2="235.7" stroke="#000" stroke-width="1.5"/>
<line x1="975.8" y1="250.2" x2="975.8" y2="253.5" stroke="#000" stroke-width="1.5"/>
<rect x="972.8" y="236.4" width="6" height="13" fill="#f4f4f4" stroke="#000" stroke-width="1.5"/>
<line x1="983.2" y1="204.8" x2="983.2" y2="209.5" stroke="#000" stroke-width="1.5"/>
<line x1="983.2" y1="235.3" x2="983.2" y2="237" stroke="#000" stroke-width="1.5"/>
<rect x="980.2" y="210.2" width="6" height="24.3" fill="#f4f4f4" stroke="#000" stroke-width="1.5"/>
<line x1="992.2" y1="195.6" x2="992.2" y2="232.8" stroke="#cf0032" stroke-width="1.5"/>
<rect x="988.5" y="221.3" width="7.5" height="1.3" fill="#cf0032"/>
<line x1="999.8" y1="198.9" x2="999.8" y2="200.7" stroke="#000" stroke-width="1.5"/>
<line x1="999.8" y1="222" x2="999.8" y2="222" stroke="#000" stroke-width="1.5"/>
<rect x="996.8" y="201.4" width="6" height="19.8" fill="#f4f4f4" stroke="#000" stroke-width="1.5"/>
<line x1="1008.8" y1="186.7" x2="1008.8" y2="188.3" stroke="#000" stroke-width="1.5"/>
<line x1="1008.8" y1="200.4" x2="1008.8" y2="208.7" stroke="#000" stroke-width="1.5"/>
<rect x="1005.8" y="189.1" width="6" height="10.6" fill="#f4f4f4" stroke="#000" stroke-width="1.5"/>
<line x1="1016.2" y1="183.6" x2="1016.2" y2="231.1" stroke="#cf0032" stroke-width="1.5"/>
<rect x="1012.5" y="191.3" width="7.5" height="23.3" fill="#cf0032"/>
<line x1="1023.8" y1="204.8" x2="1023.8" y2="209.9" stroke="#000" stroke-width="1.5"/>
<line x1="1023.8" y1="215.9" x2="1023.8" y2="223.9" stroke="#000" stroke-width="1.5"/>
<rect x="1020.8" y="210.7" width="6" height="4.5" fill="#f4f4f4" stroke="#000" stroke-width="1.5"/>
<line x1="1032.8" y1="206.1" x2="1032.8" y2="265.8" stroke="#cf0032" stroke-width="1.5"/>
<rect x="1029" y="211.2" width="7.5" height="43.8" fill="#cf0032"/>
<line x1="1040.2" y1="244" x2="1040.2" y2="270.2" stroke="#cf0032" stroke-width="1.5"/>
<rect x="1036.5" y="249" width="7.5" height="7.5" fill="#cf0032"/>
<polyline fill="none" stroke="#0c0c9c" stroke-width="1.55" stroke-linejoin="round" stroke-linecap="round" points="19,505.6 30,504.6 45,504 75,504 100,503.4 165,501.6 203,501.6 222,501.6 241.2,502.5 260.2,501.2 279.3,498 298.3,496.7 313.6,495.5 325,491 332.7,489.6 345.4,485.2 361.9,482 378.4,478.8 393.7,476.3 408.9,473.7 426.7,472.2 441.9,469.3 457.1,466.1 467.3,463.6 480,460.4 485.2,460.2 506.7,454.5 530.9,446.9 547.4,443.7 557.5,440.6 571.5,437.4 584.2,435.5 602,431.7 619.8,428.5 635,425.3 642.7,424.4 659.2,421.3 677,421.3 693.5,418.7 708.7,418.5 724,416.2 741.7,415.2 757,412.4 769.7,409.6 782.4,406.7 790,404.1 857.4,390 873.9,387.5 889.1,383 901.8,377.9 912,376 924.7,371.6 945,363.3 1020,327.3 1043,318.4"/>
<polyline fill="none" stroke="#dc1440" stroke-width="1.55" stroke-linejoin="round" stroke-linecap="round" points="19,501.8 45,502 60,501.7 80,502.8 120,504 165,508.2 181.5,510.7 203.1,506.3 222.1,501.2 241.2,499.9 260.2,496.1 279.3,491 298.3,487.2 311,484.7 325,481.5 336.5,478.8 345.4,475.6 361.9,473.7 378.4,469.3 393.7,466.1 402.5,463.6 419,459.1 426.7,457.2 434.3,454.7 452.1,450.9 467.3,445.2 480,442 491.5,439.3 506.7,433.6 530.9,425.3 538.5,424 547.4,423.7 557.5,422.8 571.5,423.4 584.2,420.9 602,420.9 612.1,419 619.8,417.7 635,416.6 642.7,416.2 659.2,413.7 671.9,414.9 693.5,412.4 708.7,409.2 724,408.6 739.2,406.7 757,403.5 769.7,401.6 782.4,399 790,398.4 832,390 846,386.2 863.7,379.8 879,374.1 894.2,368.4 909.4,359.5 918.3,357 931,350 945,341.7 1016.8,295 1030,290 1040.5,287.2"/>
<polyline fill="none" stroke="#1a7a22" stroke-width="1.55" stroke-linejoin="round" stroke-linecap="round" points="19,507.5 30,505.4 45,503.2 60,502.9 80,503.4 120,504.4 165,505.6 181.5,502.5 203.1,500.6 222.1,499.3 234.8,498 247.5,492.3 257.7,490.4 270.4,483.4 283.1,475.8 297.1,471.3 304.7,466.3 314.8,463.7 320,462.9 328.9,457.2 345.4,454 353,452.8 361.9,453 369.5,450.9 386,447.7 402.5,448.3 410.2,445.8 426.7,443.3 434.3,442.2 445.7,442.2 452.1,440.1 459.7,435 467.3,432.7 475,431.7 482.6,430.4 506.7,422.1 530.9,413.9 547.4,412.2 557.5,412.6 566.4,414.5 579.1,416.8 595.6,416.8 612.1,415.2 619.8,413.9 635,413.7 642.7,412.4 668.1,412.6 687.1,412.4 706.2,409.6 718.9,409.2 731.6,406 749.4,400.7 757,396.5 769.7,390.8 781.1,386.3 791.3,384.3 816.7,374.8 832,368.4 843.4,366.5 853.6,364 863.7,357.6 877.7,351.3 886.6,346.2 894.2,341.1 903.1,333.5 918.3,324.6 931,316.3 945,306.2 963.5,295 976.2,288 986.3,277.9 996.5,269 1007.9,258.8 1024.4,250.2 1039.7,251.2"/>
<path d="M1040.8 247.5 C1052 236 1074 213 1088.7 190.2 C1106 163 1127 110 1135.2 52.4" fill="none" stroke="#48b832" stroke-width="1.7"/>
<line x1="1048.5" y1="248.5" x2="1062.8" y2="225.8" stroke="#55bb3c" stroke-width="2" stroke-dasharray="7 3"/>
<line x1="1062.8" y1="225.8" x2="1098.4" y2="297.9" stroke="#55bb3c" stroke-width="2" stroke-dasharray="7 3"/>
<line x1="1043" y1="249.8" x2="1089.5" y2="247.2" stroke="#55bb3c" stroke-width="2" stroke-dasharray="7 3"/>
<line x1="1040.5" y1="287.2" x2="1129.6" y2="263.2" stroke="#ff3a3a" stroke-width="2" stroke-dasharray="8 3.5"/>
<line x1="1043" y1="318.4" x2="1170.6" y2="276.9" stroke="#3a3aff" stroke-width="2" stroke-dasharray="8 3.5"/>
<rect x="1037.8" y="244.5" width="6" height="6" fill="#ffff00" stroke="#ffa000" stroke-width="1.6"/>
<rect x="1085.7" y="187.3" width="6" height="6" fill="#ffff00" stroke="#ffa000" stroke-width="1.6"/>
<rect x="1132.3" y="49.4" width="6" height="6" fill="#ffff00" stroke="#ffa000" stroke-width="1.6"/>
<text x="1088.3" y="328.3" font-size="29" fill="#3dab18" font-family="'Liberation Sans', Arial, sans-serif" font-weight="bold" textLength="57.6" lengthAdjust="spacingAndGlyphs" stroke="#3dab18" stroke-width="0.4">dcl?</text>
<text x="573.8" y="171.4" font-size="29.5" fill="#0000ff" font-family="'Liberation Sans', Arial, sans-serif" font-weight="bold" textLength="98.6" lengthAdjust="spacingAndGlyphs" stroke="#0000ff" stroke-width="0.5">SILVER</text>
<rect x="19.5" y="781.6" width="5.8" height="3" fill="#7aabf5" stroke="#3f6fbe" stroke-width="1"/>
<rect x="27.2" y="779.6" width="7" height="5" fill="#7aabf5" stroke="#3f6fbe" stroke-width="1"/>
<rect x="34.8" y="779.1" width="7" height="5.5" fill="#7aabf5" stroke="#3f6fbe" stroke-width="1"/>
<rect x="42.2" y="780.4" width="7" height="4.2" fill="#7aabf5" stroke="#3f6fbe" stroke-width="1"/>
<rect x="51.2" y="780.6" width="7" height="4" fill="#7aabf5" stroke="#3f6fbe" stroke-width="1"/>
<rect x="58.8" y="781.4" width="7" height="3.2" fill="#7aabf5" stroke="#3f6fbe" stroke-width="1"/>
<rect x="67.8" y="782.4" width="7" height="2.2" fill="#7aabf5" stroke="#3f6fbe" stroke-width="1"/>
<rect x="75.2" y="783.6" width="7" height="1" fill="#7aabf5" stroke="#3f6fbe" stroke-width="1"/>
<rect x="82.8" y="784.6" width="7" height="1.2" fill="#f5829a" stroke="#c8345a" stroke-width="1"/>
<line x1="91.2" y1="785.1" x2="99.2" y2="785.1" stroke="#c8345a" stroke-width="1.2"/>
<line x1="98.8" y1="784.1" x2="106.8" y2="784.1" stroke="#3f6fbe" stroke-width="1.2"/>
<line x1="107.8" y1="784.1" x2="115.8" y2="784.1" stroke="#3f6fbe" stroke-width="1.2"/>
<line x1="115.2" y1="785.1" x2="123.2" y2="785.1" stroke="#c8345a" stroke-width="1.2"/>
<line x1="122.8" y1="785.1" x2="130.8" y2="785.1" stroke="#c8345a" stroke-width="1.2"/>
<line x1="131.8" y1="785.1" x2="139.8" y2="785.1" stroke="#c8345a" stroke-width="1.2"/>
<line x1="139.2" y1="785.1" x2="147.2" y2="785.1" stroke="#c8345a" stroke-width="1.2"/>
<line x1="146.8" y1="785.1" x2="154.8" y2="785.1" stroke="#c8345a" stroke-width="1.2"/>
<rect x="156.2" y="784.6" width="7" height="1.2" fill="#f5829a" stroke="#c8345a" stroke-width="1"/>
<rect x="163.8" y="784.6" width="7" height="2" fill="#f5829a" stroke="#c8345a" stroke-width="1"/>
<rect x="172.8" y="784.6" width="7" height="1" fill="#f5829a" stroke="#c8345a" stroke-width="1"/>
<rect x="180.2" y="783.6" width="7" height="1" fill="#7aabf5" stroke="#3f6fbe" stroke-width="1"/>
<rect x="187.8" y="782.6" width="7" height="2" fill="#7aabf5" stroke="#3f6fbe" stroke-width="1"/>
<rect x="196.8" y="782.1" width="7" height="2.5" fill="#7aabf5" stroke="#3f6fbe" stroke-width="1"/>
<rect x="204.2" y="782.1" width="7" height="2.5" fill="#7aabf5" stroke="#3f6fbe" stroke-width="1"/>
<rect x="213.2" y="782.4" width="7" height="2.2" fill="#7aabf5" stroke="#3f6fbe" stroke-width="1"/>
<rect x="220.8" y="782.4" width="7" height="2.2" fill="#7aabf5" stroke="#3f6fbe" stroke-width="1"/>
<rect x="228.2" y="783.4" width="7" height="1.2" fill="#7aabf5" stroke="#3f6fbe" stroke-width="1"/>
<rect x="237.2" y="781.3" width="7" height="3.3" fill="#7aabf5" stroke="#3f6fbe" stroke-width="1"/>
<rect x="244.8" y="780.1" width="7" height="4.5" fill="#7aabf5" stroke="#3f6fbe" stroke-width="1"/>
<rect x="253.8" y="779.6" width="7" height="5" fill="#7aabf5" stroke="#3f6fbe" stroke-width="1"/>
<rect x="261.2" y="776.8" width="7" height="7.8" fill="#7aabf5" stroke="#3f6fbe" stroke-width="1"/>
<rect x="268.8" y="774.6" width="7" height="10" fill="#7aabf5" stroke="#3f6fbe" stroke-width="1"/>
<rect x="277.8" y="773.4" width="7" height="11.2" fill="#7aabf5" stroke="#3f6fbe" stroke-width="1"/>
<rect x="285.2" y="773.4" width="7" height="11.2" fill="#7aabf5" stroke="#3f6fbe" stroke-width="1"/>
<rect x="292.8" y="774.6" width="7" height="10" fill="#7aabf5" stroke="#3f6fbe" stroke-width="1"/>
<rect x="301.8" y="776.8" width="7" height="7.8" fill="#7aabf5" stroke="#3f6fbe" stroke-width="1"/>
<rect x="309.2" y="777.9" width="7" height="6.7" fill="#7aabf5" stroke="#3f6fbe" stroke-width="1"/>
<rect x="318.2" y="779.1" width="7" height="5.5" fill="#7aabf5" stroke="#3f6fbe" stroke-width="1"/>
<rect x="325.8" y="779.1" width="7" height="5.5" fill="#7aabf5" stroke="#3f6fbe" stroke-width="1"/>
<rect x="333.2" y="780.8" width="7" height="3.8" fill="#7aabf5" stroke="#3f6fbe" stroke-width="1"/>
<rect x="342.2" y="782.4" width="7" height="2.2" fill="#7aabf5" stroke="#3f6fbe" stroke-width="1"/>
<line x1="349.2" y1="785.1" x2="357.2" y2="785.1" stroke="#c8345a" stroke-width="1.2"/>
<rect x="358.8" y="784.6" width="7" height="2.5" fill="#f5829a" stroke="#c8345a" stroke-width="1"/>
<rect x="366.2" y="784.6" width="7" height="2.5" fill="#f5829a" stroke="#c8345a" stroke-width="1"/>
<rect x="373.8" y="784.6" width="7" height="2.5" fill="#f5829a" stroke="#c8345a" stroke-width="1"/>
<rect x="382.8" y="784.6" width="7" height="4.2" fill="#f5829a" stroke="#c8345a" stroke-width="1"/>
<rect x="390.2" y="784.6" width="7" height="4.2" fill="#f5829a" stroke="#c8345a" stroke-width="1"/>
<rect x="399.2" y="784.6" width="7" height="5.8" fill="#f5829a" stroke="#c8345a" stroke-width="1"/>
<rect x="406.8" y="784.6" width="7" height="4.2" fill="#f5829a" stroke="#c8345a" stroke-width="1"/>
<rect x="414.2" y="784.6" width="7" height="4.2" fill="#f5829a" stroke="#c8345a" stroke-width="1"/>
<rect x="423.2" y="784.6" width="7" height="2.8" fill="#f5829a" stroke="#c8345a" stroke-width="1"/>
<rect x="430.8" y="784.6" width="7" height="2.5" fill="#f5829a" stroke="#c8345a" stroke-width="1"/>
<rect x="438.2" y="784.6" width="7" height="4.2" fill="#f5829a" stroke="#c8345a" stroke-width="1"/>
<rect x="447.2" y="784.6" width="7" height="2.5" fill="#f5829a" stroke="#c8345a" stroke-width="1"/>
<line x1="454.2" y1="784.1" x2="462.2" y2="784.1" stroke="#3f6fbe" stroke-width="1.2"/>
<rect x="463.8" y="782.4" width="7" height="2.2" fill="#7aabf5" stroke="#3f6fbe" stroke-width="1"/>
<rect x="471.2" y="782.9" width="7" height="1.7" fill="#7aabf5" stroke="#3f6fbe" stroke-width="1"/>
<rect x="478.8" y="782.9" width="7" height="1.7" fill="#7aabf5" stroke="#3f6fbe" stroke-width="1"/>
<rect x="487.8" y="782.9" width="7" height="1.7" fill="#7aabf5" stroke="#3f6fbe" stroke-width="1"/>
<rect x="495.2" y="782.9" width="7" height="1.7" fill="#7aabf5" stroke="#3f6fbe" stroke-width="1"/>
<rect x="504.2" y="782.9" width="7" height="1.7" fill="#7aabf5" stroke="#3f6fbe" stroke-width="1"/>
<rect x="511.8" y="780.8" width="7" height="3.8" fill="#7aabf5" stroke="#3f6fbe" stroke-width="1"/>
<rect x="519.2" y="780.8" width="7" height="3.8" fill="#7aabf5" stroke="#3f6fbe" stroke-width="1"/>
<rect x="528.2" y="780.8" width="7" height="3.8" fill="#7aabf5" stroke="#3f6fbe" stroke-width="1"/>
<line x1="535.2" y1="784.1" x2="543.2" y2="784.1" stroke="#3f6fbe" stroke-width="1.2"/>
<line x1="544.2" y1="785.1" x2="552.2" y2="785.1" stroke="#c8345a" stroke-width="1.2"/>
<rect x="552.2" y="784.6" width="7" height="2.5" fill="#f5829a" stroke="#c8345a" stroke-width="1"/>
<rect x="559.8" y="784.6" width="7" height="5.5" fill="#f5829a" stroke="#c8345a" stroke-width="1"/>
<rect x="568.8" y="784.6" width="7" height="8.3" fill="#f5829a" stroke="#c8345a" stroke-width="1"/>
<rect x="576.2" y="784.6" width="7" height="10" fill="#f5829a" stroke="#c8345a" stroke-width="1"/>
<rect x="583.8" y="784.6" width="7" height="8.3" fill="#f5829a" stroke="#c8345a" stroke-width="1"/>
<rect x="592.8" y="784.6" width="7" height="6.7" fill="#f5829a" stroke="#c8345a" stroke-width="1"/>
<rect x="600.2" y="784.6" width="7" height="6.7" fill="#f5829a" stroke="#c8345a" stroke-width="1"/>
<rect x="609.2" y="784.6" width="7" height="4.2" fill="#f5829a" stroke="#c8345a" stroke-width="1"/>
<rect x="616.8" y="784.6" width="7" height="2.2" fill="#f5829a" stroke="#c8345a" stroke-width="1"/>
<rect x="624.2" y="784.6" width="7" height="3.8" fill="#f5829a" stroke="#c8345a" stroke-width="1"/>
<rect x="633.2" y="784.6" width="7" height="2.8" fill="#f5829a" stroke="#c8345a" stroke-width="1"/>
<rect x="640.8" y="784.6" width="7" height="1.7" fill="#f5829a" stroke="#c8345a" stroke-width="1"/>
<rect x="649.8" y="784.6" width="7" height="1.7" fill="#f5829a" stroke="#c8345a" stroke-width="1"/>
<rect x="657.2" y="784.6" width="7" height="1.7" fill="#f5829a" stroke="#c8345a" stroke-width="1"/>
<rect x="664.8" y="784.6" width="7" height="1.7" fill="#f5829a" stroke="#c8345a" stroke-width="1"/>
<rect x="673.8" y="784.6" width="7" height="3.3" fill="#f5829a" stroke="#c8345a" stroke-width="1"/>
<rect x="681.2" y="784.6" width="7" height="1.7" fill="#f5829a" stroke="#c8345a" stroke-width="1"/>
<rect x="688.8" y="784.6" width="7" height="1.7" fill="#f5829a" stroke="#c8345a" stroke-width="1"/>
<line x1="697.2" y1="785.1" x2="705.2" y2="785.1" stroke="#c8345a" stroke-width="1.2"/>
<rect x="705.2" y="783.3" width="7" height="1.3" fill="#7aabf5" stroke="#3f6fbe" stroke-width="1"/>
<rect x="714.2" y="783.3" width="7" height="1.3" fill="#7aabf5" stroke="#3f6fbe" stroke-width="1"/>
<rect x="721.8" y="783.3" width="7" height="1.3" fill="#7aabf5" stroke="#3f6fbe" stroke-width="1"/>
<rect x="729.2" y="781.9" width="7" height="2.7" fill="#7aabf5" stroke="#3f6fbe" stroke-width="1"/>
<rect x="738.2" y="780.3" width="7" height="4.3" fill="#7aabf5" stroke="#3f6fbe" stroke-width="1"/>
<rect x="745.8" y="777.4" width="7" height="7.2" fill="#7aabf5" stroke="#3f6fbe" stroke-width="1"/>
<rect x="754.8" y="776.3" width="7" height="8.3" fill="#7aabf5" stroke="#3f6fbe" stroke-width="1"/>
<rect x="762.2" y="776.3" width="7" height="8.3" fill="#7aabf5" stroke="#3f6fbe" stroke-width="1"/>
<rect x="769.8" y="776.3" width="7" height="8.3" fill="#7aabf5" stroke="#3f6fbe" stroke-width="1"/>
<rect x="778.8" y="776.3" width="7" height="8.3" fill="#7aabf5" stroke="#3f6fbe" stroke-width="1"/>
<rect x="786.2" y="777.4" width="7" height="7.2" fill="#7aabf5" stroke="#3f6fbe" stroke-width="1"/>
<rect x="795.2" y="779.1" width="7" height="5.5" fill="#7aabf5" stroke="#3f6fbe" stroke-width="1"/>
<rect x="802.8" y="779.1" width="7" height="5.5" fill="#7aabf5" stroke="#3f6fbe" stroke-width="1"/>
<rect x="810.2" y="777.4" width="7" height="7.2" fill="#7aabf5" stroke="#3f6fbe" stroke-width="1"/>
<rect x="819.2" y="777.4" width="7" height="7.2" fill="#7aabf5" stroke="#3f6fbe" stroke-width="1"/>
<rect x="826.8" y="777.4" width="7" height="7.2" fill="#7aabf5" stroke="#3f6fbe" stroke-width="1"/>
<rect x="834.2" y="780.6" width="7" height="4" fill="#7aabf5" stroke="#3f6fbe" stroke-width="1"/>
<rect x="843.2" y="782.4" width="7" height="2.2" fill="#7aabf5" stroke="#3f6fbe" stroke-width="1"/>
<rect x="850.8" y="780.6" width="7" height="4" fill="#7aabf5" stroke="#3f6fbe" stroke-width="1"/>
<rect x="859.8" y="779.1" width="7" height="5.5" fill="#7aabf5" stroke="#3f6fbe" stroke-width="1"/>
<rect x="867.2" y="777.8" width="7" height="6.8" fill="#7aabf5" stroke="#3f6fbe" stroke-width="1"/>
<rect x="874.8" y="779.7" width="7" height="4.9" fill="#7aabf5" stroke="#3f6fbe" stroke-width="1"/>
<rect x="883.8" y="777.8" width="7" height="6.8" fill="#7aabf5" stroke="#3f6fbe" stroke-width="1"/>
<rect x="891.2" y="774.7" width="7" height="9.9" fill="#7aabf5" stroke="#3f6fbe" stroke-width="1"/>
<rect x="900.2" y="773.3" width="7" height="11.3" fill="#7aabf5" stroke="#3f6fbe" stroke-width="1"/>
<rect x="907.8" y="773.3" width="7" height="11.3" fill="#7aabf5" stroke="#3f6fbe" stroke-width="1"/>
<rect x="915.2" y="773.3" width="7" height="11.3" fill="#7aabf5" stroke="#3f6fbe" stroke-width="1"/>
<rect x="924.2" y="774.7" width="7" height="9.9" fill="#7aabf5" stroke="#3f6fbe" stroke-width="1"/>
<rect x="931.8" y="774.7" width="7" height="9.9" fill="#7aabf5" stroke="#3f6fbe" stroke-width="1"/>
<rect x="940.8" y="774.7" width="7" height="9.9" fill="#7aabf5" stroke="#3f6fbe" stroke-width="1"/>
<rect x="948.2" y="776.4" width="7" height="8.2" fill="#7aabf5" stroke="#3f6fbe" stroke-width="1"/>
<rect x="955.8" y="776.4" width="7" height="8.2" fill="#7aabf5" stroke="#3f6fbe" stroke-width="1"/>
<rect x="964.8" y="777.8" width="7" height="6.8" fill="#7aabf5" stroke="#3f6fbe" stroke-width="1"/>
<rect x="972.2" y="776.4" width="7" height="8.2" fill="#7aabf5" stroke="#3f6fbe" stroke-width="1"/>
<rect x="979.8" y="771.5" width="7" height="13.1" fill="#7aabf5" stroke="#3f6fbe" stroke-width="1"/>
<rect x="988.8" y="773.3" width="7" height="11.3" fill="#7aabf5" stroke="#3f6fbe" stroke-width="1"/>
<rect x="996.2" y="771.5" width="7" height="13.1" fill="#7aabf5" stroke="#3f6fbe" stroke-width="1"/>
<rect x="1005.2" y="770" width="7" height="14.6" fill="#7aabf5" stroke="#3f6fbe" stroke-width="1"/>
<rect x="1012.8" y="774.7" width="7" height="9.9" fill="#7aabf5" stroke="#3f6fbe" stroke-width="1"/>
<rect x="1020.2" y="777.8" width="7" height="6.8" fill="#7aabf5" stroke="#3f6fbe" stroke-width="1"/>
<rect x="1029.2" y="784.6" width="7" height="3.7" fill="#f5829a" stroke="#c8345a" stroke-width="1"/>
<rect x="1036.8" y="784.6" width="7" height="11" fill="#f5829a" stroke="#c8345a" stroke-width="1"/>
<polyline fill="none" stroke="#ee1540" stroke-width="1.5" stroke-linejoin="round" stroke-linecap="round" points="19,788.3 35,785.5 50,783.3 100,783 150,783.3 165,785 185,783.5 220,782 236.7,779.7 258.3,775 281.7,769.7 306.7,760 336.7,755 350,754.7 363.3,756.7 380,756.7 401.7,760.8 411.7,760.8 420,762.5 435,762.5 446.7,764.2 468.3,763.7 481.7,762 495,762 508.3,760.3 525,759.7 538.3,758 556.7,758 566.7,760 580,764.2 591.7,767.5 611.7,770.8 625,771.7 635,773.3 643.3,774.7 668.3,774.7 685,776.3 700,777.5 713.3,776.7 733.3,775.8 750,773 763.3,769.2 780,764.2 796.7,760.8 813.3,757.5 830,754.7 840,753.8 846,753 862.4,750.3 886.1,745.7 902.5,739.9 913.5,737.5 942.7,726.5 959.1,722.9 975.6,718.7 999.3,710.1 1007.5,705.6 1023.9,702.3 1032.2,702.8 1040.9,705.6"/>
<polyline fill="none" stroke="#1c3b7c" stroke-width="2.3" stroke-linejoin="round" stroke-linecap="round" points="19,782.5 30,780.5 45,779.2 60,780 75,783.3 165,783.7 180,782 200,779.5 220,779.5 233.3,779.2 240,774.7 256.7,770.8 271.7,761.7 286.7,755.3 305,751.7 321.7,751.7 330,750.3 338.3,750.3 346.7,753.3 361.7,757.5 370,759.7 380,760 393.3,764.2 401.7,765.3 430,765.3 435,765.3 443.3,767 450,767 458.3,761.7 468.3,760.8 481.7,760.8 491.7,759.7 500,759.2 518.3,755.8 526.7,755 533.3,755.3 541.7,757 548.3,759.7 556.7,761.7 565,765.8 571.7,770.8 580,774.7 588.3,775.8 611.7,775.8 620,774.2 628.3,775.3 635,775.6 660,775.8 675,778.7 693.3,778.7 703.3,776.7 723.3,775.8 733.3,774.2 746.7,768.3 756.7,762 765,759.2 780,756.3 790,756.3 803.3,753.3 813.3,751.7 821.7,748.7 830,747 835,747.9 846,750.8 855.1,748.5 871.5,743 880.6,740.2 889.8,735.7 902.5,728.9 917.1,723.4 926.3,721.6 942.7,716.1 950,717.8 966.4,714.3 975.6,711.4 983.8,703.7 992,701.9 999.3,697.3 1007.5,690.6 1015.7,692.8 1023.9,695 1031.2,706.5 1040.9,717.4"/>
<line x1="18.5" y1="837.5" x2="1221" y2="837.5" stroke="#1a1a1a" stroke-width="1.6"/>
<line x1="18.5" y1="900.3" x2="1221" y2="900.3" stroke="#1a1a1a" stroke-width="1.6"/>
<line x1="18.5" y1="869.2" x2="1221" y2="869.2" stroke="#1a1a1a" stroke-width="1.6" stroke-dasharray="12 3.4 3 3.5" stroke-dashoffset="15.9"/>
<polyline fill="none" stroke="#ee1540" stroke-width="1.5" stroke-linejoin="round" stroke-linecap="round" points="19.2,845.5 21.8,843.8 30.8,838.8 38.2,830.5 45.8,827.2 54.8,827.2 62.2,833 71.2,839.7 78.8,854.7 86.2,869.7 95.2,878 102.8,875.5 111.8,871.3 119.2,871.3 126.8,873.3 135.8,873.3 143.2,872.2 150.8,871 159.8,876.3 167.2,878 176.2,875 183.8,861.3 191.2,848 200.2,837.7 207.8,836.3 216.8,838 224.2,841.3 231.8,843.3 240.8,842.2 248.2,838.8 257.2,832.2 264.8,828.8 272.2,827.2 281.2,827.2 288.8,825.5 296.2,825.2 305.2,826.3 312.8,828.3 321.8,830 329.2,830.5 336.8,828.8 345.8,829.7 353.2,834.7 362.2,843.8 369.8,852.2 377.2,855.5 386.2,858 393.8,863 402.8,872.2 410.2,875.5 417.8,872.2 426.8,860.5 434.2,849.7 441.8,848 450.8,846.3 458.2,843.8 467.2,838.8 474.8,837.7 482.2,842.2 491.2,848 498.8,849.7 507.8,845.5 515.2,838 522.8,830.5 531.8,826.3 539.2,828.8 548.2,838 555.8,850.5 563.2,862.2 572.2,876.3 579.8,890.5 587.2,897.2 596.2,895.5 603.8,886.3 612.8,874.7 620.2,867.2 627.8,863.8 636.8,863.2 644.2,863.8 653.2,860 660.8,852.2 668.2,848.3 677.2,848.8 684.8,854.3 692.2,857.2 701.2,852.2 708.8,846.7 717.8,840 725.2,840.5 732.8,838.8 741.8,835.5 749.2,828.8 758.2,825.2 765.8,823.8 773.2,826.3 782.2,828.8 789.8,830 798.8,830 806.2,830 813.8,828.3 822.8,825.5 830.2,823.8 837.8,826.8 846.8,832.2 854.2,836.3 863.2,834.7 870.8,828.8 878.2,825.5 887.2,825.5 894.8,826.7 903.8,825.2 911.2,824.2 918.8,824.2 927.8,825.5 935.2,826.7 944.2,827.2 951.8,825.5 959.2,825.2 968.2,827.7 975.8,830.5 983.2,831.3 992.2,831.7 999.8,830 1008.8,828.3 1016.2,828 1023.8,830.5 1032.8,842.2 1040.2,857.2"/>
<polyline fill="none" stroke="#1c3b7c" stroke-width="2.3" stroke-linejoin="round" stroke-linecap="round" points="19.2,839.7 21.8,837.2 30.8,831.3 38.2,825.5 45.8,826.7 54.8,831.3 62.2,840.5 71.2,849.7 78.8,874.7 86.2,882.2 95.2,878 102.8,867.7 111.8,868.8 119.2,876 126.8,874.7 135.8,866.3 143.2,874.7 150.8,872.2 159.8,882.2 167.2,876.3 176.2,863 183.8,842.2 191.2,834.7 200.2,834.7 207.8,840 216.8,840.5 224.2,843.3 231.8,848 240.8,835.5 248.2,833 257.2,825.5 264.8,828.3 272.2,827.2 281.2,825.5 288.8,825.2 296.2,825.5 305.2,828.3 312.8,831.3 321.8,831.3 329.2,828.3 336.8,827.2 345.8,833 353.2,846.3 362.2,854.7 369.8,857.2 377.2,855.5 386.2,862.2 393.8,872.2 402.8,882.2 410.2,871.3 417.8,861.3 426.8,847.2 434.2,843.8 441.8,851 450.8,847.2 458.2,837.2 467.2,831.8 474.8,841.3 482.2,851 491.2,851 498.8,848 507.8,838.8 515.2,828.8 522.8,823 531.8,825.5 539.2,839.7 548.2,850.5 555.8,861.3 563.2,875.5 572.2,892.2 579.8,903.3 587.2,895.5 596.2,883.8 603.8,876.3 612.8,866.3 620.2,860.5 627.8,863 636.8,866 644.2,861.3 653.2,852.7 660.8,845 668.2,848 677.2,855.5 684.8,858.3 692.2,858.3 701.2,842.2 708.8,838.8 717.8,837.7 725.2,843.3 732.8,836 741.8,829.7 749.2,821 758.2,823 765.8,826.7 773.2,830 782.2,830 789.8,830 798.8,830 806.2,830 813.8,825.5 822.8,822.7 830.2,822.7 837.8,831.3 846.8,838.8 854.2,837.7 863.2,826.3 870.8,821 878.2,827.2 887.2,827.2 894.8,825.5 903.8,822.7 911.2,825.2 918.8,824.2 927.8,828.8 935.2,827.2 944.2,825.2 951.8,824.2 959.2,825.5 968.2,833 975.8,833 983.2,831.3 992.2,830 999.8,827.2 1008.8,826.7 1016.2,829.7 1023.8,836.3 1032.8,860.5 1040.2,876"/>
<rect x="18.5" y="47.5" width="1202.5" height="485" fill="none" stroke="#15224f" stroke-width="1.6"/>
<rect x="18.5" y="554.5" width="1202.5" height="377" fill="none" stroke="#15224f" stroke-width="1.6"/>
<line x1="18.5" y1="173.7" x2="1221" y2="173.7" stroke="#15224f" stroke-width="1.6"/>
<line x1="18.5" y1="679.7" x2="1221" y2="679.7" stroke="#15224f" stroke-width="1.6"/>
<line x1="18.5" y1="805.7" x2="1221" y2="805.7" stroke="#15224f" stroke-width="1.6"/>
<rect x="19.5" y="553" width="1200.5" height="1.2" fill="#a1c8f9"/>
<line x1="21.8" y1="533.2" x2="21.8" y2="535.6" stroke="#15224f" stroke-width="1.4"/>
<line x1="21.8" y1="551.4" x2="21.8" y2="553.8" stroke="#15224f" stroke-width="1.4"/>
<line x1="30.8" y1="533.2" x2="30.8" y2="535.6" stroke="#15224f" stroke-width="1.4"/>
<line x1="30.8" y1="551.4" x2="30.8" y2="553.8" stroke="#15224f" stroke-width="1.4"/>
<line x1="38.2" y1="533.2" x2="38.2" y2="535.6" stroke="#15224f" stroke-width="1.4"/>
<line x1="38.2" y1="551.4" x2="38.2" y2="553.8" stroke="#15224f" stroke-width="1.4"/>
<line x1="45.8" y1="533.2" x2="45.8" y2="535.6" stroke="#15224f" stroke-width="1.4"/>
<line x1="45.8" y1="551.4" x2="45.8" y2="553.8" stroke="#15224f" stroke-width="1.4"/>
<line x1="54.8" y1="533.2" x2="54.8" y2="535.6" stroke="#15224f" stroke-width="1.4"/>
<line x1="54.8" y1="551.4" x2="54.8" y2="553.8" stroke="#15224f" stroke-width="1.4"/>
<line x1="62.2" y1="533.2" x2="62.2" y2="535.6" stroke="#15224f" stroke-width="1.4"/>
<line x1="62.2" y1="551.4" x2="62.2" y2="553.8" stroke="#15224f" stroke-width="1.4"/>
<line x1="71.2" y1="533.2" x2="71.2" y2="535.6" stroke="#15224f" stroke-width="1.4"/>
<line x1="71.2" y1="551.4" x2="71.2" y2="553.8" stroke="#15224f" stroke-width="1.4"/>
<line x1="78.8" y1="533.2" x2="78.8" y2="535.6" stroke="#15224f" stroke-width="1.4"/>
<line x1="78.8" y1="551.4" x2="78.8" y2="553.8" stroke="#15224f" stroke-width="1.4"/>
<line x1="86.2" y1="533.2" x2="86.2" y2="535.6" stroke="#15224f" stroke-width="1.4"/>
<line x1="86.2" y1="551.4" x2="86.2" y2="553.8" stroke="#15224f" stroke-width="1.4"/>
<line x1="95.2" y1="533.2" x2="95.2" y2="535.6" stroke="#15224f" stroke-width="1.4"/>
<line x1="95.2" y1="551.4" x2="95.2" y2="553.8" stroke="#15224f" stroke-width="1.4"/>
<line x1="102.8" y1="533.2" x2="102.8" y2="535.6" stroke="#15224f" stroke-width="1.4"/>
<line x1="102.8" y1="551.4" x2="102.8" y2="553.8" stroke="#15224f" stroke-width="1.4"/>
<line x1="111.8" y1="533.2" x2="111.8" y2="535.6" stroke="#15224f" stroke-width="1.4"/>
<line x1="111.8" y1="551.4" x2="111.8" y2="553.8" stroke="#15224f" stroke-width="1.4"/>
<line x1="119.2" y1="533.2" x2="119.2" y2="535.6" stroke="#15224f" stroke-width="1.4"/>
<line x1="119.2" y1="551.4" x2="119.2" y2="553.8" stroke="#15224f" stroke-width="1.4"/>
<line x1="126.8" y1="533.2" x2="126.8" y2="535.6" stroke="#15224f" stroke-width="1.4"/>
<line x1="126.8" y1="551.4" x2="126.8" y2="553.8" stroke="#15224f" stroke-width="1.4"/>
<line x1="135.8" y1="533.2" x2="135.8" y2="535.6" stroke="#15224f" stroke-width="1.4"/>
<line x1="135.8" y1="551.4" x2="135.8" y2="553.8" stroke="#15224f" stroke-width="1.4"/>
<line x1="143.2" y1="533.2" x2="143.2" y2="535.6" stroke="#15224f" stroke-width="1.4"/>
<line x1="143.2" y1="551.4" x2="143.2" y2="553.8" stroke="#15224f" stroke-width="1.4"/>
<line x1="150.8" y1="533.2" x2="150.8" y2="535.6" stroke="#15224f" stroke-width="1.4"/>
<line x1="150.8" y1="551.4" x2="150.8" y2="553.8" stroke="#15224f" stroke-width="1.4"/>
<line x1="159.8" y1="533.2" x2="159.8" y2="535.6" stroke="#15224f" stroke-width="1.4"/>
<line x1="159.8" y1="551.4" x2="159.8" y2="553.8" stroke="#15224f" stroke-width="1.4"/>
<line x1="167.2" y1="533.2" x2="167.2" y2="535.6" stroke="#15224f" stroke-width="1.4"/>
<line x1="167.2" y1="551.4" x2="167.2" y2="553.8" stroke="#15224f" stroke-width="1.4"/>
<line x1="176.2" y1="533.2" x2="176.2" y2="535.6" stroke="#15224f" stroke-width="1.4"/>
<line x1="176.2" y1="551.4" x2="176.2" y2="553.8" stroke="#15224f" stroke-width="1.4"/>
<line x1="183.8" y1="533.2" x2="183.8" y2="535.6" stroke="#15224f" stroke-width="1.4"/>
<line x1="183.8" y1="551.4" x2="183.8" y2="553.8" stroke="#15224f" stroke-width="1.4"/>
<line x1="191.2" y1="533.2" x2="191.2" y2="535.6" stroke="#15224f" stroke-width="1.4"/>
<line x1="191.2" y1="551.4" x2="191.2" y2="553.8" stroke="#15224f" stroke-width="1.4"/>
<line x1="200.2" y1="533.2" x2="200.2" y2="535.6" stroke="#15224f" stroke-width="1.4"/>
<line x1="200.2" y1="551.4" x2="200.2" y2="553.8" stroke="#15224f" stroke-width="1.4"/>
<line x1="207.8" y1="533.2" x2="207.8" y2="535.6" stroke="#15224f" stroke-width="1.4"/>
<line x1="207.8" y1="551.4" x2="207.8" y2="553.8" stroke="#15224f" stroke-width="1.4"/>
<line x1="216.8" y1="533.2" x2="216.8" y2="535.6" stroke="#15224f" stroke-width="1.4"/>
<line x1="216.8" y1="551.4" x2="216.8" y2="553.8" stroke="#15224f" stroke-width="1.4"/>
<line x1="224.2" y1="533.2" x2="224.2" y2="535.6" stroke="#15224f" stroke-width="1.4"/>
<line x1="224.2" y1="551.4" x2="224.2" y2="553.8" stroke="#15224f" stroke-width="1.4"/>
<line x1="231.8" y1="533.2" x2="231.8" y2="535.6" stroke="#15224f" stroke-width="1.4"/>
<line x1="231.8" y1="551.4" x2="231.8" y2="553.8" stroke="#15224f" stroke-width="1.4"/>
<line x1="240.8" y1="533.2" x2="240.8" y2="535.6" stroke="#15224f" stroke-width="1.4"/>
<line x1="240.8" y1="551.4" x2="240.8" y2="553.8" stroke="#15224f" stroke-width="1.4"/>
<line x1="248.2" y1="533.2" x2="248.2" y2="535.6" stroke="#15224f" stroke-width="1.4"/>
<line x1="248.2" y1="551.4" x2="248.2" y2="553.8" stroke="#15224f" stroke-width="1.4"/>
<line x1="257.2" y1="533.2" x2="257.2" y2="535.6" stroke="#15224f" stroke-width="1.4"/>
<line x1="257.2" y1="551.4" x2="257.2" y2="553.8" stroke="#15224f" stroke-width="1.4"/>
<line x1="264.8" y1="533.2" x2="264.8" y2="535.6" stroke="#15224f" stroke-width="1.4"/>
<line x1="264.8" y1="551.4" x2="264.8" y2="553.8" stroke="#15224f" stroke-width="1.4"/>
<line x1="272.2" y1="533.2" x2="272.2" y2="535.6" stroke="#15224f" stroke-width="1.4"/>
<line x1="272.2" y1="551.4" x2="272.2" y2="553.8" stroke="#15224f" stroke-width="1.4"/>
<line x1="281.2" y1="533.2" x2="281.2" y2="535.6" stroke="#15224f" stroke-width="1.4"/>
<line x1="281.2" y1="551.4" x2="281.2" y2="553.8" stroke="#15224f" stroke-width="1.4"/>
<line x1="288.8" y1="533.2" x2="288.8" y2="535.6" stroke="#15224f" stroke-width="1.4"/>
<line x1="288.8" y1="551.4" x2="288.8" y2="553.8" stroke="#15224f" stroke-width="1.4"/>
<line x1="296.2" y1="533.2" x2="296.2" y2="535.6" stroke="#15224f" stroke-width="1.4"/>
<line x1="296.2" y1="551.4" x2="296.2" y2="553.8" stroke="#15224f" stroke-width="1.4"/>
<line x1="305.2" y1="533.2" x2="305.2" y2="535.6" stroke="#15224f" stroke-width="1.4"/>
<line x1="305.2" y1="551.4" x2="305.2" y2="553.8" stroke="#15224f" stroke-width="1.4"/>
<line x1="312.8" y1="533.2" x2="312.8" y2="535.6" stroke="#15224f" stroke-width="1.4"/>
<line x1="312.8" y1="551.4" x2="312.8" y2="553.8" stroke="#15224f" stroke-width="1.4"/>
<line x1="321.8" y1="533.2" x2="321.8" y2="535.6" stroke="#15224f" stroke-width="1.4"/>
<line x1="321.8" y1="551.4" x2="321.8" y2="553.8" stroke="#15224f" stroke-width="1.4"/>
<line x1="329.2" y1="533.2" x2="329.2" y2="535.6" stroke="#15224f" stroke-width="1.4"/>
<line x1="329.2" y1="551.4" x2="329.2" y2="553.8" stroke="#15224f" stroke-width="1.4"/>
<line x1="336.8" y1="533.2" x2="336.8" y2="535.6" stroke="#15224f" stroke-width="1.4"/>
<line x1="336.8" y1="551.4" x2="336.8" y2="553.8" stroke="#15224f" stroke-width="1.4"/>
<line x1="345.8" y1="533.2" x2="345.8" y2="535.6" stroke="#15224f" stroke-width="1.4"/>
<line x1="345.8" y1="551.4" x2="345.8" y2="553.8" stroke="#15224f" stroke-width="1.4"/>
<line x1="353.2" y1="533.2" x2="353.2" y2="535.6" stroke="#15224f" stroke-width="1.4"/>
<line x1="353.2" y1="551.4" x2="353.2" y2="553.8" stroke="#15224f" stroke-width="1.4"/>
<line x1="362.2" y1="533.2" x2="362.2" y2="535.6" stroke="#15224f" stroke-width="1.4"/>
<line x1="362.2" y1="551.4" x2="362.2" y2="553.8" stroke="#15224f" stroke-width="1.4"/>
<line x1="369.8" y1="533.2" x2="369.8" y2="535.6" stroke="#15224f" stroke-width="1.4"/>
<line x1="369.8" y1="551.4" x2="369.8" y2="553.8" stroke="#15224f" stroke-width="1.4"/>
<line x1="377.2" y1="533.2" x2="377.2" y2="535.6" stroke="#15224f" stroke-width="1.4"/>
<line x1="377.2" y1="551.4" x2="377.2" y2="553.8" stroke="#15224f" stroke-width="1.4"/>
<line x1="386.2" y1="533.2" x2="386.2" y2="535.6" stroke="#15224f" stroke-width="1.4"/>
<line x1="386.2" y1="551.4" x2="386.2" y2="553.8" stroke="#15224f" stroke-width="1.4"/>
<line x1="393.8" y1="533.2" x2="393.8" y2="535.6" stroke="#15224f" stroke-width="1.4"/>
<line x1="393.8" y1="551.4" x2="393.8" y2="553.8" stroke="#15224f" stroke-width="1.4"/>
<line x1="402.8" y1="533.2" x2="402.8" y2="535.6" stroke="#15224f" stroke-width="1.4"/>
<line x1="402.8" y1="551.4" x2="402.8" y2="553.8" stroke="#15224f" stroke-width="1.4"/>
<line x1="410.2" y1="533.2" x2="410.2" y2="535.6" stroke="#15224f" stroke-width="1.4"/>
<line x1="410.2" y1="551.4" x2="410.2" y2="553.8" stroke="#15224f" stroke-width="1.4"/>
<line x1="417.8" y1="533.2" x2="417.8" y2="535.6" stroke="#15224f" stroke-width="1.4"/>
<line x1="417.8" y1="551.4" x2="417.8" y2="553.8" stroke="#15224f" stroke-width="1.4"/>
<line x1="426.8" y1="533.2" x2="426.8" y2="535.6" stroke="#15224f" stroke-width="1.4"/>
<line x1="426.8" y1="551.4" x2="426.8" y2="553.8" stroke="#15224f" stroke-width="1.4"/>
<line x1="434.2" y1="533.2" x2="434.2" y2="535.6" stroke="#15224f" stroke-width="1.4"/>
<line x1="434.2" y1="551.4" x2="434.2" y2="553.8" stroke="#15224f" stroke-width="1.4"/>
<line x1="441.8" y1="533.2" x2="441.8" y2="535.6" stroke="#15224f" stroke-width="1.4"/>
<line x1="441.8" y1="551.4" x2="441.8" y2="553.8" stroke="#15224f" stroke-width="1.4"/>
<line x1="450.8" y1="533.2" x2="450.8" y2="535.6" stroke="#15224f" stroke-width="1.4"/>
<line x1="450.8" y1="551.4" x2="450.8" y2="553.8" stroke="#15224f" stroke-width="1.4"/>
<line x1="458.2" y1="533.2" x2="458.2" y2="535.6" stroke="#15224f" stroke-width="1.4"/>
<line x1="458.2" y1="551.4" x2="458.2" y2="553.8" stroke="#15224f" stroke-width="1.4"/>
<line x1="467.2" y1="533.2" x2="467.2" y2="535.6" stroke="#15224f" stroke-width="1.4"/>
<line x1="467.2" y1="551.4" x2="467.2" y2="553.8" stroke="#15224f" stroke-width="1.4"/>
<line x1="474.8" y1="533.2" x2="474.8" y2="535.6" stroke="#15224f" stroke-width="1.4"/>
<line x1="474.8" y1="551.4" x2="474.8" y2="553.8" stroke="#15224f" stroke-width="1.4"/>
<line x1="482.2" y1="533.2" x2="482.2" y2="535.6" stroke="#15224f" stroke-width="1.4"/>
<line x1="482.2" y1="551.4" x2="482.2" y2="553.8" stroke="#15224f" stroke-width="1.4"/>
<line x1="491.2" y1="533.2" x2="491.2" y2="535.6" stroke="#15224f" stroke-width="1.4"/>
<line x1="491.2" y1="551.4" x2="491.2" y2="553.8" stroke="#15224f" stroke-width="1.4"/>
<line x1="498.8" y1="533.2" x2="498.8" y2="535.6" stroke="#15224f" stroke-width="1.4"/>
<line x1="498.8" y1="551.4" x2="498.8" y2="553.8" stroke="#15224f" stroke-width="1.4"/>
<line x1="507.8" y1="533.2" x2="507.8" y2="535.6" stroke="#15224f" stroke-width="1.4"/>
<line x1="507.8" y1="551.4" x2="507.8" y2="553.8" stroke="#15224f" stroke-width="1.4"/>
<line x1="515.2" y1="533.2" x2="515.2" y2="535.6" stroke="#15224f" stroke-width="1.4"/>
<line x1="515.2" y1="551.4" x2="515.2" y2="553.8" stroke="#15224f" stroke-width="1.4"/>
<line x1="522.8" y1="533.2" x2="522.8" y2="535.6" stroke="#15224f" stroke-width="1.4"/>
<line x1="522.8" y1="551.4" x2="522.8" y2="553.8" stroke="#15224f" stroke-width="1.4"/>
<line x1="531.8" y1="533.2" x2="531.8" y2="535.6" stroke="#15224f" stroke-width="1.4"/>
<line x1="531.8" y1="551.4" x2="531.8" y2="553.8" stroke="#15224f" stroke-width="1.4"/>
<line x1="539.2" y1="533.2" x2="539.2" y2="535.6" stroke="#15224f" stroke-width="1.4"/>
<line x1="539.2" y1="551.4" x2="539.2" y2="553.8" stroke="#15224f" stroke-width="1.4"/>
<line x1="548.2" y1="533.2" x2="548.2" y2="535.6" stroke="#15224f" stroke-width="1.4"/>
<line x1="548.2" y1="551.4" x2="548.2" y2="553.8" stroke="#15224f" stroke-width="1.4"/>
<line x1="555.8" y1="533.2" x2="555.8" y2="535.6" stroke="#15224f" stroke-width="1.4"/>
<line x1="555.8" y1="551.4" x2="555.8" y2="553.8" stroke="#15224f" stroke-width="1.4"/>
<line x1="563.2" y1="533.2" x2="563.2" y2="535.6" stroke="#15224f" stroke-width="1.4"/>
<line x1="563.2" y1="551.4" x2="563.2" y2="553.8" stroke="#15224f" stroke-width="1.4"/>
<line x1="572.2" y1="533.2" x2="572.2" y2="535.6" stroke="#15224f" stroke-width="1.4"/>
<line x1="572.2" y1="551.4" x2="572.2" y2="553.8" stroke="#15224f" stroke-width="1.4"/>
<line x1="579.8" y1="533.2" x2="579.8" y2="535.6" stroke="#15224f" stroke-width="1.4"/>
<line x1="579.8" y1="551.4" x2="579.8" y2="553.8" stroke="#15224f" stroke-width="1.4"/>
<line x1="587.2" y1="533.2" x2="587.2" y2="535.6" stroke="#15224f" stroke-width="1.4"/>
<line x1="587.2" y1="551.4" x2="587.2" y2="553.8" stroke="#15224f" stroke-width="1.4"/>
<line x1="596.2" y1="533.2" x2="596.2" y2="535.6" stroke="#15224f" stroke-width="1.4"/>
<line x1="596.2" y1="551.4" x2="596.2" y2="553.8" stroke="#15224f" stroke-width="1.4"/>
<line x1="603.8" y1="533.2" x2="603.8" y2="535.6" stroke="#15224f" stroke-width="1.4"/>
<line x1="603.8" y1="551.4" x2="603.8" y2="553.8" stroke="#15224f" stroke-width="1.4"/>
<line x1="612.8" y1="533.2" x2="612.8" y2="535.6" stroke="#15224f" stroke-width="1.4"/>
<line x1="612.8" y1="551.4" x2="612.8" y2="553.8" stroke="#15224f" stroke-width="1.4"/>
<line x1="620.2" y1="533.2" x2="620.2" y2="535.6" stroke="#15224f" stroke-width="1.4"/>
<line x1="620.2" y1="551.4" x2="620.2" y2="553.8" stroke="#15224f" stroke-width="1.4"/>
<line x1="627.8" y1="533.2" x2="627.8" y2="535.6" stroke="#15224f" stroke-width="1.4"/>
<line x1="627.8" y1="551.4" x2="627.8" y2="553.8" stroke="#15224f" stroke-width="1.4"/>
<line x1="636.8" y1="533.2" x2="636.8" y2="535.6" stroke="#15224f" stroke-width="1.4"/>
<line x1="636.8" y1="551.4" x2="636.8" y2="553.8" stroke="#15224f" stroke-width="1.4"/>
<line x1="644.2" y1="533.2" x2="644.2" y2="535.6" stroke="#15224f" stroke-width="1.4"/>
<line x1="644.2" y1="551.4" x2="644.2" y2="553.8" stroke="#15224f" stroke-width="1.4"/>
<line x1="653.2" y1="533.2" x2="653.2" y2="535.6" stroke="#15224f" stroke-width="1.4"/>
<line x1="653.2" y1="551.4" x2="653.2" y2="553.8" stroke="#15224f" stroke-width="1.4"/>
<line x1="660.8" y1="533.2" x2="660.8" y2="535.6" stroke="#15224f" stroke-width="1.4"/>
<line x1="660.8" y1="551.4" x2="660.8" y2="553.8" stroke="#15224f" stroke-width="1.4"/>
<line x1="668.2" y1="533.2" x2="668.2" y2="535.6" stroke="#15224f" stroke-width="1.4"/>
<line x1="668.2" y1="551.4" x2="668.2" y2="553.8" stroke="#15224f" stroke-width="1.4"/>
<line x1="677.2" y1="533.2" x2="677.2" y2="535.6" stroke="#15224f" stroke-width="1.4"/>
<line x1="677.2" y1="551.4" x2="677.2" y2="553.8" stroke="#15224f" stroke-width="1.4"/>
<line x1="684.8" y1="533.2" x2="684.8" y2="535.6" stroke="#15224f" stroke-width="1.4"/>
<line x1="684.8" y1="551.4" x2="684.8" y2="553.8" stroke="#15224f" stroke-width="1.4"/>
<line x1="692.2" y1="533.2" x2="692.2" y2="535.6" stroke="#15224f" stroke-width="1.4"/>
<line x1="692.2" y1="551.4" x2="692.2" y2="553.8" stroke="#15224f" stroke-width="1.4"/>
<line x1="701.2" y1="533.2" x2="701.2" y2="535.6" stroke="#15224f" stroke-width="1.4"/>
<line x1="701.2" y1="551.4" x2="701.2" y2="553.8" stroke="#15224f" stroke-width="1.4"/>
<line x1="708.8" y1="533.2" x2="708.8" y2="535.6" stroke="#15224f" stroke-width="1.4"/>
<line x1="708.8" y1="551.4" x2="708.8" y2="553.8" stroke="#15224f" stroke-width="1.4"/>
<line x1="717.8" y1="533.2" x2="717.8" y2="535.6" stroke="#15224f" stroke-width="1.4"/>
<line x1="717.8" y1="551.4" x2="717.8" y2="553.8" stroke="#15224f" stroke-width="1.4"/>
<line x1="725.2" y1="533.2" x2="725.2" y2="535.6" stroke="#15224f" stroke-width="1.4"/>
<line x1="725.2" y1="551.4" x2="725.2" y2="553.8" stroke="#15224f" stroke-width="1.4"/>
<line x1="732.8" y1="533.2" x2="732.8" y2="535.6" stroke="#15224f" stroke-width="1.4"/>
<line x1="732.8" y1="551.4" x2="732.8" y2="553.8" stroke="#15224f" stroke-width="1.4"/>
<line x1="741.8" y1="533.2" x2="741.8" y2="535.6" stroke="#15224f" stroke-width="1.4"/>
<line x1="741.8" y1="551.4" x2="741.8" y2="553.8" stroke="#15224f" stroke-width="1.4"/>
<line x1="749.2" y1="533.2" x2="749.2" y2="535.6" stroke="#15224f" stroke-width="1.4"/>
<line x1="749.2" y1="551.4" x2="749.2" y2="553.8" stroke="#15224f" stroke-width="1.4"/>
<line x1="758.2" y1="533.2" x2="758.2" y2="535.6" stroke="#15224f" stroke-width="1.4"/>
<line x1="758.2" y1="551.4" x2="758.2" y2="553.8" stroke="#15224f" stroke-width="1.4"/>
<line x1="765.8" y1="533.2" x2="765.8" y2="535.6" stroke="#15224f" stroke-width="1.4"/>
<line x1="765.8" y1="551.4" x2="765.8" y2="553.8" stroke="#15224f" stroke-width="1.4"/>
<line x1="773.2" y1="533.2" x2="773.2" y2="535.6" stroke="#15224f" stroke-width="1.4"/>
<line x1="773.2" y1="551.4" x2="773.2" y2="553.8" stroke="#15224f" stroke-width="1.4"/>
<line x1="782.2" y1="533.2" x2="782.2" y2="535.6" stroke="#15224f" stroke-width="1.4"/>
<line x1="782.2" y1="551.4" x2="782.2" y2="553.8" stroke="#15224f" stroke-width="1.4"/>
<line x1="789.8" y1="533.2" x2="789.8" y2="535.6" stroke="#15224f" stroke-width="1.4"/>
<line x1="789.8" y1="551.4" x2="789.8" y2="553.8" stroke="#15224f" stroke-width="1.4"/>
<line x1="798.8" y1="533.2" x2="798.8" y2="535.6" stroke="#15224f" stroke-width="1.4"/>
<line x1="798.8" y1="551.4" x2="798.8" y2="553.8" stroke="#15224f" stroke-width="1.4"/>
<line x1="806.2" y1="533.2" x2="806.2" y2="535.6" stroke="#15224f" stroke-width="1.4"/>
<line x1="806.2" y1="551.4" x2="806.2" y2="553.8" stroke="#15224f" stroke-width="1.4"/>
<line x1="813.8" y1="533.2" x2="813.8" y2="535.6" stroke="#15224f" stroke-width="1.4"/>
<line x1="813.8" y1="551.4" x2="813.8" y2="553.8" stroke="#15224f" stroke-width="1.4"/>
<line x1="822.8" y1="533.2" x2="822.8" y2="535.6" stroke="#15224f" stroke-width="1.4"/>
<line x1="822.8" y1="551.4" x2="822.8" y2="553.8" stroke="#15224f" stroke-width="1.4"/>
<line x1="830.2" y1="533.2" x2="830.2" y2="535.6" stroke="#15224f" stroke-width="1.4"/>
<line x1="830.2" y1="551.4" x2="830.2" y2="553.8" stroke="#15224f" stroke-width="1.4"/>
<line x1="837.8" y1="533.2" x2="837.8" y2="535.6" stroke="#15224f" stroke-width="1.4"/>
<line x1="837.8" y1="551.4" x2="837.8" y2="553.8" stroke="#15224f" stroke-width="1.4"/>
<line x1="846.8" y1="533.2" x2="846.8" y2="535.6" stroke="#15224f" stroke-width="1.4"/>
<line x1="846.8" y1="551.4" x2="846.8" y2="553.8" stroke="#15224f" stroke-width="1.4"/>
<line x1="854.2" y1="533.2" x2="854.2" y2="535.6" stroke="#15224f" stroke-width="1.4"/>
<line x1="854.2" y1="551.4" x2="854.2" y2="553.8" stroke="#15224f" stroke-width="1.4"/>
<line x1="863.2" y1="533.2" x2="863.2" y2="535.6" stroke="#15224f" stroke-width="1.4"/>
<line x1="863.2" y1="551.4" x2="863.2" y2="553.8" stroke="#15224f" stroke-width="1.4"/>
<line x1="870.8" y1="533.2" x2="870.8" y2="535.6" stroke="#15224f" stroke-width="1.4"/>
<line x1="870.8" y1="551.4" x2="870.8" y2="553.8" stroke="#15224f" stroke-width="1.4"/>
<line x1="878.2" y1="533.2" x2="878.2" y2="535.6" stroke="#15224f" stroke-width="1.4"/>
<line x1="878.2" y1="551.4" x2="878.2" y2="553.8" stroke="#15224f" stroke-width="1.4"/>
<line x1="887.2" y1="533.2" x2="887.2" y2="535.6" stroke="#15224f" stroke-width="1.4"/>
<line x1="887.2" y1="551.4" x2="887.2" y2="553.8" stroke="#15224f" stroke-width="1.4"/>
<line x1="894.8" y1="533.2" x2="894.8" y2="535.6" stroke="#15224f" stroke-width="1.4"/>
<line x1="894.8" y1="551.4" x2="894.8" y2="553.8" stroke="#15224f" stroke-width="1.4"/>
<line x1="903.8" y1="533.2" x2="903.8" y2="535.6" stroke="#15224f" stroke-width="1.4"/>
<line x1="903.8" y1="551.4" x2="903.8" y2="553.8" stroke="#15224f" stroke-width="1.4"/>
<line x1="911.2" y1="533.2" x2="911.2" y2="535.6" stroke="#15224f" stroke-width="1.4"/>
<line x1="911.2" y1="551.4" x2="911.2" y2="553.8" stroke="#15224f" stroke-width="1.4"/>
<line x1="918.8" y1="533.2" x2="918.8" y2="535.6" stroke="#15224f" stroke-width="1.4"/>
<line x1="918.8" y1="551.4" x2="918.8" y2="553.8" stroke="#15224f" stroke-width="1.4"/>
<line x1="927.8" y1="533.2" x2="927.8" y2="535.6" stroke="#15224f" stroke-width="1.4"/>
<line x1="927.8" y1="551.4" x2="927.8" y2="553.8" stroke="#15224f" stroke-width="1.4"/>
<line x1="935.2" y1="533.2" x2="935.2" y2="535.6" stroke="#15224f" stroke-width="1.4"/>
<line x1="935.2" y1="551.4" x2="935.2" y2="553.8" stroke="#15224f" stroke-width="1.4"/>
<line x1="944.2" y1="533.2" x2="944.2" y2="535.6" stroke="#15224f" stroke-width="1.4"/>
<line x1="944.2" y1="551.4" x2="944.2" y2="553.8" stroke="#15224f" stroke-width="1.4"/>
<line x1="951.8" y1="533.2" x2="951.8" y2="535.6" stroke="#15224f" stroke-width="1.4"/>
<line x1="951.8" y1="551.4" x2="951.8" y2="553.8" stroke="#15224f" stroke-width="1.4"/>
<line x1="959.2" y1="533.2" x2="959.2" y2="535.6" stroke="#15224f" stroke-width="1.4"/>
<line x1="959.2" y1="551.4" x2="959.2" y2="553.8" stroke="#15224f" stroke-width="1.4"/>
<line x1="968.2" y1="533.2" x2="968.2" y2="535.6" stroke="#15224f" stroke-width="1.4"/>
<line x1="968.2" y1="551.4" x2="968.2" y2="553.8" stroke="#15224f" stroke-width="1.4"/>
<line x1="975.8" y1="533.2" x2="975.8" y2="535.6" stroke="#15224f" stroke-width="1.4"/>
<line x1="975.8" y1="551.4" x2="975.8" y2="553.8" stroke="#15224f" stroke-width="1.4"/>
<line x1="983.2" y1="533.2" x2="983.2" y2="535.6" stroke="#15224f" stroke-width="1.4"/>
<line x1="983.2" y1="551.4" x2="983.2" y2="553.8" stroke="#15224f" stroke-width="1.4"/>
<line x1="992.2" y1="533.2" x2="992.2" y2="535.6" stroke="#15224f" stroke-width="1.4"/>
<line x1="992.2" y1="551.4" x2="992.2" y2="553.8" stroke="#15224f" stroke-width="1.4"/>
<line x1="999.8" y1="533.2" x2="999.8" y2="535.6" stroke="#15224f" stroke-width="1.4"/>
<line x1="999.8" y1="551.4" x2="999.8" y2="553.8" stroke="#15224f" stroke-width="1.4"/>
<line x1="1008.8" y1="533.2" x2="1008.8" y2="535.6" stroke="#15224f" stroke-width="1.4"/>
<line x1="1008.8" y1="551.4" x2="1008.8" y2="553.8" stroke="#15224f" stroke-width="1.4"/>
<line x1="1016.2" y1="533.2" x2="1016.2" y2="535.6" stroke="#15224f" stroke-width="1.4"/>
<line x1="1016.2" y1="551.4" x2="1016.2" y2="553.8" stroke="#15224f" stroke-width="1.4"/>
<line x1="1023.8" y1="533.2" x2="1023.8" y2="535.6" stroke="#15224f" stroke-width="1.4"/>
<line x1="1023.8" y1="551.4" x2="1023.8" y2="553.8" stroke="#15224f" stroke-width="1.4"/>
<line x1="1032.8" y1="533.2" x2="1032.8" y2="535.6" stroke="#15224f" stroke-width="1.4"/>
<line x1="1032.8" y1="551.4" x2="1032.8" y2="553.8" stroke="#15224f" stroke-width="1.4"/>
<line x1="1040.2" y1="533.2" x2="1040.2" y2="535.6" stroke="#15224f" stroke-width="1.4"/>
<line x1="1040.2" y1="551.4" x2="1040.2" y2="553.8" stroke="#15224f" stroke-width="1.4"/>
<line x1="1049.2" y1="533.2" x2="1049.2" y2="535.6" stroke="#15224f" stroke-width="1.4"/>
<line x1="1049.2" y1="551.4" x2="1049.2" y2="553.8" stroke="#15224f" stroke-width="1.4"/>
<line x1="1056.8" y1="533.2" x2="1056.8" y2="535.6" stroke="#15224f" stroke-width="1.4"/>
<line x1="1056.8" y1="551.4" x2="1056.8" y2="553.8" stroke="#15224f" stroke-width="1.4"/>
<line x1="1064.2" y1="533.2" x2="1064.2" y2="535.6" stroke="#15224f" stroke-width="1.4"/>
<line x1="1064.2" y1="551.4" x2="1064.2" y2="553.8" stroke="#15224f" stroke-width="1.4"/>
<line x1="1073.2" y1="533.2" x2="1073.2" y2="535.6" stroke="#15224f" stroke-width="1.4"/>
<line x1="1073.2" y1="551.4" x2="1073.2" y2="553.8" stroke="#15224f" stroke-width="1.4"/>
<line x1="1080.8" y1="533.2" x2="1080.8" y2="535.6" stroke="#15224f" stroke-width="1.4"/>
<line x1="1080.8" y1="551.4" x2="1080.8" y2="553.8" stroke="#15224f" stroke-width="1.4"/>
<line x1="1089.8" y1="533.2" x2="1089.8" y2="535.6" stroke="#15224f" stroke-width="1.4"/>
<line x1="1089.8" y1="551.4" x2="1089.8" y2="553.8" stroke="#15224f" stroke-width="1.4"/>
<line x1="1097.2" y1="533.2" x2="1097.2" y2="535.6" stroke="#15224f" stroke-width="1.4"/>
<line x1="1097.2" y1="551.4" x2="1097.2" y2="553.8" stroke="#15224f" stroke-width="1.4"/>
<line x1="1104.8" y1="533.2" x2="1104.8" y2="535.6" stroke="#15224f" stroke-width="1.4"/>
<line x1="1104.8" y1="551.4" x2="1104.8" y2="553.8" stroke="#15224f" stroke-width="1.4"/>
<line x1="1113.8" y1="533.2" x2="1113.8" y2="535.6" stroke="#15224f" stroke-width="1.4"/>
<line x1="1113.8" y1="551.4" x2="1113.8" y2="553.8" stroke="#15224f" stroke-width="1.4"/>
<line x1="1121.2" y1="533.2" x2="1121.2" y2="535.6" stroke="#15224f" stroke-width="1.4"/>
<line x1="1121.2" y1="551.4" x2="1121.2" y2="553.8" stroke="#15224f" stroke-width="1.4"/>
<line x1="1128.8" y1="533.2" x2="1128.8" y2="535.6" stroke="#15224f" stroke-width="1.4"/>
<line x1="1128.8" y1="551.4" x2="1128.8" y2="553.8" stroke="#15224f" stroke-width="1.4"/>
<line x1="1137.8" y1="533.2" x2="1137.8" y2="535.6" stroke="#15224f" stroke-width="1.4"/>
<line x1="1137.8" y1="551.4" x2="1137.8" y2="553.8" stroke="#15224f" stroke-width="1.4"/>
<line x1="1145.2" y1="533.2" x2="1145.2" y2="535.6" stroke="#15224f" stroke-width="1.4"/>
<line x1="1145.2" y1="551.4" x2="1145.2" y2="553.8" stroke="#15224f" stroke-width="1.4"/>
<line x1="1154.2" y1="533.2" x2="1154.2" y2="535.6" stroke="#15224f" stroke-width="1.4"/>
<line x1="1154.2" y1="551.4" x2="1154.2" y2="553.8" stroke="#15224f" stroke-width="1.4"/>
<line x1="1161.8" y1="533.2" x2="1161.8" y2="535.6" stroke="#15224f" stroke-width="1.4"/>
<line x1="1161.8" y1="551.4" x2="1161.8" y2="553.8" stroke="#15224f" stroke-width="1.4"/>
<line x1="1169.2" y1="533.2" x2="1169.2" y2="535.6" stroke="#15224f" stroke-width="1.4"/>
<line x1="1169.2" y1="551.4" x2="1169.2" y2="553.8" stroke="#15224f" stroke-width="1.4"/>
<line x1="1178.2" y1="533.2" x2="1178.2" y2="535.6" stroke="#15224f" stroke-width="1.4"/>
<line x1="1178.2" y1="551.4" x2="1178.2" y2="553.8" stroke="#15224f" stroke-width="1.4"/>
<line x1="1185.8" y1="533.2" x2="1185.8" y2="535.6" stroke="#15224f" stroke-width="1.4"/>
<line x1="1185.8" y1="551.4" x2="1185.8" y2="553.8" stroke="#15224f" stroke-width="1.4"/>
<line x1="1194.8" y1="533.2" x2="1194.8" y2="535.6" stroke="#15224f" stroke-width="1.4"/>
<line x1="1194.8" y1="551.4" x2="1194.8" y2="553.8" stroke="#15224f" stroke-width="1.4"/>
<line x1="1202.2" y1="533.2" x2="1202.2" y2="535.6" stroke="#15224f" stroke-width="1.4"/>
<line x1="1202.2" y1="551.4" x2="1202.2" y2="553.8" stroke="#15224f" stroke-width="1.4"/>
<line x1="1209.8" y1="533.2" x2="1209.8" y2="535.6" stroke="#15224f" stroke-width="1.4"/>
<line x1="1209.8" y1="551.4" x2="1209.8" y2="553.8" stroke="#15224f" stroke-width="1.4"/>
<line x1="1218.8" y1="533.2" x2="1218.8" y2="535.6" stroke="#15224f" stroke-width="1.4"/>
<line x1="1218.8" y1="551.4" x2="1218.8" y2="553.8" stroke="#15224f" stroke-width="1.4"/>
<text x="45" y="548.4" font-size="14" fill="#111" font-family="'Liberation Sans', Arial, sans-serif" textLength="16.2" lengthAdjust="spacingAndGlyphs" text-anchor="middle">28</text>
<text x="126" y="548.4" font-size="14" fill="#111" font-family="'Liberation Sans', Arial, sans-serif" textLength="16.2" lengthAdjust="spacingAndGlyphs" text-anchor="middle">12</text>
<text x="166.4" y="548.4" font-size="14" fill="#111" font-family="'Liberation Sans', Arial, sans-serif" textLength="16.2" lengthAdjust="spacingAndGlyphs" text-anchor="middle">19</text>
<text x="206.9" y="548.4" font-size="14" fill="#111" font-family="'Liberation Sans', Arial, sans-serif" textLength="16.2" lengthAdjust="spacingAndGlyphs" text-anchor="middle">27</text>
<text x="280.4" y="548.4" font-size="14" fill="#111" font-family="'Liberation Sans', Arial, sans-serif" textLength="8.1" lengthAdjust="spacingAndGlyphs" text-anchor="middle">9</text>
<text x="320.9" y="548.4" font-size="14" fill="#111" font-family="'Liberation Sans', Arial, sans-serif" textLength="16.2" lengthAdjust="spacingAndGlyphs" text-anchor="middle">16</text>
<text x="352.4" y="548.4" font-size="14" fill="#111" font-family="'Liberation Sans', Arial, sans-serif" textLength="16.2" lengthAdjust="spacingAndGlyphs" text-anchor="middle">23</text>
<text x="425.9" y="548.4" font-size="14" fill="#111" font-family="'Liberation Sans', Arial, sans-serif" textLength="8.1" lengthAdjust="spacingAndGlyphs" text-anchor="middle">7</text>
<text x="466.4" y="548.4" font-size="14" fill="#111" font-family="'Liberation Sans', Arial, sans-serif" textLength="16.2" lengthAdjust="spacingAndGlyphs" text-anchor="middle">14</text>
<text x="506.9" y="548.4" font-size="14" fill="#111" font-family="'Liberation Sans', Arial, sans-serif" textLength="16.2" lengthAdjust="spacingAndGlyphs" text-anchor="middle">21</text>
<text x="547.5" y="548.4" font-size="14" fill="#111" font-family="'Liberation Sans', Arial, sans-serif" textLength="16.2" lengthAdjust="spacingAndGlyphs" text-anchor="middle">28</text>
<text x="627" y="548.4" font-size="14" fill="#111" font-family="'Liberation Sans', Arial, sans-serif" textLength="16.2" lengthAdjust="spacingAndGlyphs" text-anchor="middle">11</text>
<text x="667.5" y="548.4" font-size="14" fill="#111" font-family="'Liberation Sans', Arial, sans-serif" textLength="16.2" lengthAdjust="spacingAndGlyphs" text-anchor="middle">18</text>
<text x="708" y="548.4" font-size="14" fill="#111" font-family="'Liberation Sans', Arial, sans-serif" textLength="16.2" lengthAdjust="spacingAndGlyphs" text-anchor="middle">25</text>
<text x="781.5" y="548.4" font-size="14" fill="#111" font-family="'Liberation Sans', Arial, sans-serif" textLength="8.1" lengthAdjust="spacingAndGlyphs" text-anchor="middle">8</text>
<text x="822" y="548.4" font-size="14" fill="#111" font-family="'Liberation Sans', Arial, sans-serif" textLength="16.2" lengthAdjust="spacingAndGlyphs" text-anchor="middle">15</text>
<text x="862.5" y="548.4" font-size="14" fill="#111" font-family="'Liberation Sans', Arial, sans-serif" textLength="16.2" lengthAdjust="spacingAndGlyphs" text-anchor="middle">22</text>
<text x="943.5" y="548.4" font-size="14" fill="#111" font-family="'Liberation Sans', Arial, sans-serif" textLength="8.1" lengthAdjust="spacingAndGlyphs" text-anchor="middle">6</text>
<text x="982.5" y="548.4" font-size="14" fill="#111" font-family="'Liberation Sans', Arial, sans-serif" textLength="16.2" lengthAdjust="spacingAndGlyphs" text-anchor="middle">13</text>
<text x="1023" y="548.4" font-size="14" fill="#111" font-family="'Liberation Sans', Arial, sans-serif" textLength="16.2" lengthAdjust="spacingAndGlyphs" text-anchor="middle">20</text>
<text x="1063.5" y="548.4" font-size="14" fill="#111" font-family="'Liberation Sans', Arial, sans-serif" textLength="16.2" lengthAdjust="spacingAndGlyphs" text-anchor="middle">27</text>
<text x="1144.5" y="548.4" font-size="14" fill="#111" font-family="'Liberation Sans', Arial, sans-serif" textLength="16.2" lengthAdjust="spacingAndGlyphs" text-anchor="middle">10</text>
<text x="1185" y="548.4" font-size="14" fill="#111" font-family="'Liberation Sans', Arial, sans-serif" textLength="16.2" lengthAdjust="spacingAndGlyphs" text-anchor="middle">17</text>
<text x="72.2" y="548.6" font-size="15.6" fill="#000" font-family="'Liberation Sans', Arial, sans-serif" font-weight="bold" textLength="32.5" lengthAdjust="spacingAndGlyphs" text-anchor="middle">May</text>
<text x="241.8" y="548.6" font-size="15.6" fill="#000" font-family="'Liberation Sans', Arial, sans-serif" font-weight="bold" textLength="28.4" lengthAdjust="spacingAndGlyphs" text-anchor="middle">Jun</text>
<text x="403.8" y="548.6" font-size="15.6" fill="#000" font-family="'Liberation Sans', Arial, sans-serif" font-weight="bold" textLength="21.6" lengthAdjust="spacingAndGlyphs" text-anchor="middle">Jul</text>
<text x="580.8" y="548.6" font-size="15.6" fill="#000" font-family="'Liberation Sans', Arial, sans-serif" font-weight="bold" textLength="32.3" lengthAdjust="spacingAndGlyphs" text-anchor="middle">Aug</text>
<text x="750.2" y="548.6" font-size="15.6" fill="#000" font-family="'Liberation Sans', Arial, sans-serif" font-weight="bold" textLength="31.7" lengthAdjust="spacingAndGlyphs" text-anchor="middle">Sep</text>
<text x="919.8" y="548.6" font-size="15.6" fill="#000" font-family="'Liberation Sans', Arial, sans-serif" font-weight="bold" textLength="25.7" lengthAdjust="spacingAndGlyphs" text-anchor="middle">Oct</text>
<text x="1105.8" y="548.6" font-size="15.6" fill="#000" font-family="'Liberation Sans', Arial, sans-serif" font-weight="bold" textLength="29.3" lengthAdjust="spacingAndGlyphs" text-anchor="middle">Nov</text>
<line x1="21.8" y1="932.2" x2="21.8" y2="934.6" stroke="#15224f" stroke-width="1.4"/>
<line x1="30.8" y1="932.2" x2="30.8" y2="934.6" stroke="#15224f" stroke-width="1.4"/>
<line x1="38.2" y1="932.2" x2="38.2" y2="934.6" stroke="#15224f" stroke-width="1.4"/>
<line x1="45.8" y1="932.2" x2="45.8" y2="934.6" stroke="#15224f" stroke-width="1.4"/>
<line x1="54.8" y1="932.2" x2="54.8" y2="934.6" stroke="#15224f" stroke-width="1.4"/>
<line x1="62.2" y1="932.2" x2="62.2" y2="934.6" stroke="#15224f" stroke-width="1.4"/>
<line x1="71.2" y1="932.2" x2="71.2" y2="934.6" stroke="#15224f" stroke-width="1.4"/>
<line x1="78.8" y1="932.2" x2="78.8" y2="934.6" stroke="#15224f" stroke-width="1.4"/>
<line x1="86.2" y1="932.2" x2="86.2" y2="934.6" stroke="#15224f" stroke-width="1.4"/>
<line x1="95.2" y1="932.2" x2="95.2" y2="934.6" stroke="#15224f" stroke-width="1.4"/>
<line x1="102.8" y1="932.2" x2="102.8" y2="934.6" stroke="#15224f" stroke-width="1.4"/>
<line x1="111.8" y1="932.2" x2="111.8" y2="934.6" stroke="#15224f" stroke-width="1.4"/>
<line x1="119.2" y1="932.2" x2="119.2" y2="934.6" stroke="#15224f" stroke-width="1.4"/>
<line x1="126.8" y1="932.2" x2="126.8" y2="934.6" stroke="#15224f" stroke-width="1.4"/>
<line x1="135.8" y1="932.2" x2="135.8" y2="934.6" stroke="#15224f" stroke-width="1.4"/>
<line x1="143.2" y1="932.2" x2="143.2" y2="934.6" stroke="#15224f" stroke-width="1.4"/>
<line x1="150.8" y1="932.2" x2="150.8" y2="934.6" stroke="#15224f" stroke-width="1.4"/>
<line x1="159.8" y1="932.2" x2="159.8" y2="934.6" stroke="#15224f" stroke-width="1.4"/>
<line x1="167.2" y1="932.2" x2="167.2" y2="934.6" stroke="#15224f" stroke-width="1.4"/>
<line x1="176.2" y1="932.2" x2="176.2" y2="934.6" stroke="#15224f" stroke-width="1.4"/>
<line x1="183.8" y1="932.2" x2="183.8" y2="934.6" stroke="#15224f" stroke-width="1.4"/>
<line x1="191.2" y1="932.2" x2="191.2" y2="934.6" stroke="#15224f" stroke-width="1.4"/>
<line x1="200.2" y1="932.2" x2="200.2" y2="934.6" stroke="#15224f" stroke-width="1.4"/>
<line x1="207.8" y1="932.2" x2="207.8" y2="934.6" stroke="#15224f" stroke-width="1.4"/>
<line x1="216.8" y1="932.2" x2="216.8" y2="934.6" stroke="#15224f" stroke-width="1.4"/>
<line x1="224.2" y1="932.2" x2="224.2" y2="934.6" stroke="#15224f" stroke-width="1.4"/>
<line x1="231.8" y1="932.2" x2="231.8" y2="934.6" stroke="#15224f" stroke-width="1.4"/>
<line x1="240.8" y1="932.2" x2="240.8" y2="934.6" stroke="#15224f" stroke-width="1.4"/>
<line x1="248.2" y1="932.2" x2="248.2" y2="934.6" stroke="#15224f" stroke-width="1.4"/>
<line x1="257.2" y1="932.2" x2="257.2" y2="934.6" stroke="#15224f" stroke-width="1.4"/>
<line x1="264.8" y1="932.2" x2="264.8" y2="934.6" stroke="#15224f" stroke-width="1.4"/>
<line x1="272.2" y1="932.2" x2="272.2" y2="934.6" stroke="#15224f" stroke-width="1.4"/>
<line x1="281.2" y1="932.2" x2="281.2" y2="934.6" stroke="#15224f" stroke-width="1.4"/>
<line x1="288.8" y1="932.2" x2="288.8" y2="934.6" stroke="#15224f" stroke-width="1.4"/>
<line x1="296.2" y1="932.2" x2="296.2" y2="934.6" stroke="#15224f" stroke-width="1.4"/>
<line x1="305.2" y1="932.2" x2="305.2" y2="934.6" stroke="#15224f" stroke-width="1.4"/>
<line x1="312.8" y1="932.2" x2="312.8" y2="934.6" stroke="#15224f" stroke-width="1.4"/>
<line x1="321.8" y1="932.2" x2="321.8" y2="934.6" stroke="#15224f" stroke-width="1.4"/>
<line x1="329.2" y1="932.2" x2="329.2" y2="934.6" stroke="#15224f" stroke-width="1.4"/>
<line x1="336.8" y1="932.2" x2="336.8" y2="934.6" stroke="#15224f" stroke-width="1.4"/>
<line x1="345.8" y1="932.2" x2="345.8" y2="934.6" stroke="#15224f" stroke-width="1.4"/>
<line x1="353.2" y1="932.2" x2="353.2" y2="934.6" stroke="#15224f" stroke-width="1.4"/>
<line x1="362.2" y1="932.2" x2="362.2" y2="934.6" stroke="#15224f" stroke-width="1.4"/>
<line x1="369.8" y1="932.2" x2="369.8" y2="934.6" stroke="#15224f" stroke-width="1.4"/>
<line x1="377.2" y1="932.2" x2="377.2" y2="934.6" stroke="#15224f" stroke-width="1.4"/>
<line x1="386.2" y1="932.2" x2="386.2" y2="934.6" stroke="#15224f" stroke-width="1.4"/>
<line x1="393.8" y1="932.2" x2="393.8" y2="934.6" stroke="#15224f" stroke-width="1.4"/>
<line x1="402.8" y1="932.2" x2="402.8" y2="934.6" stroke="#15224f" stroke-width="1.4"/>
<line x1="410.2" y1="932.2" x2="410.2" y2="934.6" stroke="#15224f" stroke-width="1.4"/>
<line x1="417.8" y1="932.2" x2="417.8" y2="934.6" stroke="#15224f" stroke-width="1.4"/>
<line x1="426.8" y1="932.2" x2="426.8" y2="934.6" stroke="#15224f" stroke-width="1.4"/>
<line x1="434.2" y1="932.2" x2="434.2" y2="934.6" stroke="#15224f" stroke-width="1.4"/>
<line x1="441.8" y1="932.2" x2="441.8" y2="934.6" stroke="#15224f" stroke-width="1.4"/>
<line x1="450.8" y1="932.2" x2="450.8" y2="934.6" stroke="#15224f" stroke-width="1.4"/>
<line x1="458.2" y1="932.2" x2="458.2" y2="934.6" stroke="#15224f" stroke-width="1.4"/>
<line x1="467.2" y1="932.2" x2="467.2" y2="934.6" stroke="#15224f" stroke-width="1.4"/>
<line x1="474.8" y1="932.2" x2="474.8" y2="934.6" stroke="#15224f" stroke-width="1.4"/>
<line x1="482.2" y1="932.2" x2="482.2" y2="934.6" stroke="#15224f" stroke-width="1.4"/>
<line x1="491.2" y1="932.2" x2="491.2" y2="934.6" stroke="#15224f" stroke-width="1.4"/>
<line x1="498.8" y1="932.2" x2="498.8" y2="934.6" stroke="#15224f" stroke-width="1.4"/>
<line x1="507.8" y1="932.2" x2="507.8" y2="934.6" stroke="#15224f" stroke-width="1.4"/>
<line x1="515.2" y1="932.2" x2="515.2" y2="934.6" stroke="#15224f" stroke-width="1.4"/>
<line x1="522.8" y1="932.2" x2="522.8" y2="934.6" stroke="#15224f" stroke-width="1.4"/>
<line x1="531.8" y1="932.2" x2="531.8" y2="934.6" stroke="#15224f" stroke-width="1.4"/>
<line x1="539.2" y1="932.2" x2="539.2" y2="934.6" stroke="#15224f" stroke-width="1.4"/>
<line x1="548.2" y1="932.2" x2="548.2" y2="934.6" stroke="#15224f" stroke-width="1.4"/>
<line x1="555.8" y1="932.2" x2="555.8" y2="934.6" stroke="#15224f" stroke-width="1.4"/>
<line x1="563.2" y1="932.2" x2="563.2" y2="934.6" stroke="#15224f" stroke-width="1.4"/>
<line x1="572.2" y1="932.2" x2="572.2" y2="934.6" stroke="#15224f" stroke-width="1.4"/>
<line x1="579.8" y1="932.2" x2="579.8" y2="934.6" stroke="#15224f" stroke-width="1.4"/>
<line x1="587.2" y1="932.2" x2="587.2" y2="934.6" stroke="#15224f" stroke-width="1.4"/>
<line x1="596.2" y1="932.2" x2="596.2" y2="934.6" stroke="#15224f" stroke-width="1.4"/>
<line x1="603.8" y1="932.2" x2="603.8" y2="934.6" stroke="#15224f" stroke-width="1.4"/>
<line x1="612.8" y1="932.2" x2="612.8" y2="934.6" stroke="#15224f" stroke-width="1.4"/>
<line x1="620.2" y1="932.2" x2="620.2" y2="934.6" stroke="#15224f" stroke-width="1.4"/>
<line x1="627.8" y1="932.2" x2="627.8" y2="934.6" stroke="#15224f" stroke-width="1.4"/>
<line x1="636.8" y1="932.2" x2="636.8" y2="934.6" stroke="#15224f" stroke-width="1.4"/>
<line x1="644.2" y1="932.2" x2="644.2" y2="934.6" stroke="#15224f" stroke-width="1.4"/>
<line x1="653.2" y1="932.2" x2="653.2" y2="934.6" stroke="#15224f" stroke-width="1.4"/>
<line x1="660.8" y1="932.2" x2="660.8" y2="934.6" stroke="#15224f" stroke-width="1.4"/>
<line x1="668.2" y1="932.2" x2="668.2" y2="934.6" stroke="#15224f" stroke-width="1.4"/>
<line x1="677.2" y1="932.2" x2="677.2" y2="934.6" stroke="#15224f" stroke-width="1.4"/>
<line x1="684.8" y1="932.2" x2="684.8" y2="934.6" stroke="#15224f" stroke-width="1.4"/>
<line x1="692.2" y1="932.2" x2="692.2" y2="934.6" stroke="#15224f" stroke-width="1.4"/>
<line x1="701.2" y1="932.2" x2="701.2" y2="934.6" stroke="#15224f" stroke-width="1.4"/>
<line x1="708.8" y1="932.2" x2="708.8" y2="934.6" stroke="#15224f" stroke-width="1.4"/>
<line x1="717.8" y1="932.2" x2="717.8" y2="934.6" stroke="#15224f" stroke-width="1.4"/>
<line x1="725.2" y1="932.2" x2="725.2" y2="934.6" stroke="#15224f" stroke-width="1.4"/>
<line x1="732.8" y1="932.2" x2="732.8" y2="934.6" stroke="#15224f" stroke-width="1.4"/>
<line x1="741.8" y1="932.2" x2="741.8" y2="934.6" stroke="#15224f" stroke-width="1.4"/>
<line x1="749.2" y1="932.2" x2="749.2" y2="934.6" stroke="#15224f" stroke-width="1.4"/>
<line x1="758.2" y1="932.2" x2="758.2" y2="934.6" stroke="#15224f" stroke-width="1.4"/>
<line x1="765.8" y1="932.2" x2="765.8" y2="934.6" stroke="#15224f" stroke-width="1.4"/>
<line x1="773.2" y1="932.2" x2="773.2" y2="934.6" stroke="#15224f" stroke-width="1.4"/>
<line x1="782.2" y1="932.2" x2="782.2" y2="934.6" stroke="#15224f" stroke-width="1.4"/>
<line x1="789.8" y1="932.2" x2="789.8" y2="934.6" stroke="#15224f" stroke-width="1.4"/>
<line x1="798.8" y1="932.2" x2="798.8" y2="934.6" stroke="#15224f" stroke-width="1.4"/>
<line x1="806.2" y1="932.2" x2="806.2" y2="934.6" stroke="#15224f" stroke-width="1.4"/>
<line x1="813.8" y1="932.2" x2="813.8" y2="934.6" stroke="#15224f" stroke-width="1.4"/>
<line x1="822.8" y1="932.2" x2="822.8" y2="934.6" stroke="#15224f" stroke-width="1.4"/>
<line x1="830.2" y1="932.2" x2="830.2" y2="934.6" stroke="#15224f" stroke-width="1.4"/>
<line x1="837.8" y1="932.2" x2="837.8" y2="934.6" stroke="#15224f" stroke-width="1.4"/>
<line x1="846.8" y1="932.2" x2="846.8" y2="934.6" stroke="#15224f" stroke-width="1.4"/>
<line x1="854.2" y1="932.2" x2="854.2" y2="934.6" stroke="#15224f" stroke-width="1.4"/>
<line x1="863.2" y1="932.2" x2="863.2" y2="934.6" stroke="#15224f" stroke-width="1.4"/>
<line x1="870.8" y1="932.2" x2="870.8" y2="934.6" stroke="#15224f" stroke-width="1.4"/>
<line x1="878.2" y1="932.2" x2="878.2" y2="934.6" stroke="#15224f" stroke-width="1.4"/>
<line x1="887.2" y1="932.2" x2="887.2" y2="934.6" stroke="#15224f" stroke-width="1.4"/>
<line x1="894.8" y1="932.2" x2="894.8" y2="934.6" stroke="#15224f" stroke-width="1.4"/>
<line x1="903.8" y1="932.2" x2="903.8" y2="934.6" stroke="#15224f" stroke-width="1.4"/>
<line x1="911.2" y1="932.2" x2="911.2" y2="934.6" stroke="#15224f" stroke-width="1.4"/>
<line x1="918.8" y1="932.2" x2="918.8" y2="934.6" stroke="#15224f" stroke-width="1.4"/>
<line x1="927.8" y1="932.2" x2="927.8" y2="934.6" stroke="#15224f" stroke-width="1.4"/>
<line x1="935.2" y1="932.2" x2="935.2" y2="934.6" stroke="#15224f" stroke-width="1.4"/>
<line x1="944.2" y1="932.2" x2="944.2" y2="934.6" stroke="#15224f" stroke-width="1.4"/>
<line x1="951.8" y1="932.2" x2="951.8" y2="934.6" stroke="#15224f" stroke-width="1.4"/>
<line x1="959.2" y1="932.2" x2="959.2" y2="934.6" stroke="#15224f" stroke-width="1.4"/>
<line x1="968.2" y1="932.2" x2="968.2" y2="934.6" stroke="#15224f" stroke-width="1.4"/>
<line x1="975.8" y1="932.2" x2="975.8" y2="934.6" stroke="#15224f" stroke-width="1.4"/>
<line x1="983.2" y1="932.2" x2="983.2" y2="934.6" stroke="#15224f" stroke-width="1.4"/>
<line x1="992.2" y1="932.2" x2="992.2" y2="934.6" stroke="#15224f" stroke-width="1.4"/>
<line x1="999.8" y1="932.2" x2="999.8" y2="934.6" stroke="#15224f" stroke-width="1.4"/>
<line x1="1008.8" y1="932.2" x2="1008.8" y2="934.6" stroke="#15224f" stroke-width="1.4"/>
<line x1="1016.2" y1="932.2" x2="1016.2" y2="934.6" stroke="#15224f" stroke-width="1.4"/>
<line x1="1023.8" y1="932.2" x2="1023.8" y2="934.6" stroke="#15224f" stroke-width="1.4"/>
<line x1="1032.8" y1="932.2" x2="1032.8" y2="934.6" stroke="#15224f" stroke-width="1.4"/>
<line x1="1040.2" y1="932.2" x2="1040.2" y2="934.6" stroke="#15224f" stroke-width="1.4"/>
<line x1="1049.2" y1="932.2" x2="1049.2" y2="934.6" stroke="#15224f" stroke-width="1.4"/>
<line x1="1056.8" y1="932.2" x2="1056.8" y2="934.6" stroke="#15224f" stroke-width="1.4"/>
<line x1="1064.2" y1="932.2" x2="1064.2" y2="934.6" stroke="#15224f" stroke-width="1.4"/>
<line x1="1073.2" y1="932.2" x2="1073.2" y2="934.6" stroke="#15224f" stroke-width="1.4"/>
<line x1="1080.8" y1="932.2" x2="1080.8" y2="934.6" stroke="#15224f" stroke-width="1.4"/>
<line x1="1089.8" y1="932.2" x2="1089.8" y2="934.6" stroke="#15224f" stroke-width="1.4"/>
<line x1="1097.2" y1="932.2" x2="1097.2" y2="934.6" stroke="#15224f" stroke-width="1.4"/>
<line x1="1104.8" y1="932.2" x2="1104.8" y2="934.6" stroke="#15224f" stroke-width="1.4"/>
<line x1="1113.8" y1="932.2" x2="1113.8" y2="934.6" stroke="#15224f" stroke-width="1.4"/>
<line x1="1121.2" y1="932.2" x2="1121.2" y2="934.6" stroke="#15224f" stroke-width="1.4"/>
<line x1="1128.8" y1="932.2" x2="1128.8" y2="934.6" stroke="#15224f" stroke-width="1.4"/>
<line x1="1137.8" y1="932.2" x2="1137.8" y2="934.6" stroke="#15224f" stroke-width="1.4"/>
<line x1="1145.2" y1="932.2" x2="1145.2" y2="934.6" stroke="#15224f" stroke-width="1.4"/>
<line x1="1154.2" y1="932.2" x2="1154.2" y2="934.6" stroke="#15224f" stroke-width="1.4"/>
<line x1="1161.8" y1="932.2" x2="1161.8" y2="934.6" stroke="#15224f" stroke-width="1.4"/>
<line x1="1169.2" y1="932.2" x2="1169.2" y2="934.6" stroke="#15224f" stroke-width="1.4"/>
<line x1="1178.2" y1="932.2" x2="1178.2" y2="934.6" stroke="#15224f" stroke-width="1.4"/>
<line x1="1185.8" y1="932.2" x2="1185.8" y2="934.6" stroke="#15224f" stroke-width="1.4"/>
<line x1="1194.8" y1="932.2" x2="1194.8" y2="934.6" stroke="#15224f" stroke-width="1.4"/>
<line x1="1202.2" y1="932.2" x2="1202.2" y2="934.6" stroke="#15224f" stroke-width="1.4"/>
<line x1="1209.8" y1="932.2" x2="1209.8" y2="934.6" stroke="#15224f" stroke-width="1.4"/>
<line x1="1218.8" y1="932.2" x2="1218.8" y2="934.6" stroke="#15224f" stroke-width="1.4"/>
<text x="45" y="945.9" font-size="14" fill="#111" font-family="'Liberation Sans', Arial, sans-serif" textLength="16.2" lengthAdjust="spacingAndGlyphs" text-anchor="middle">28</text>
<text x="126" y="945.9" font-size="14" fill="#111" font-family="'Liberation Sans', Arial, sans-serif" textLength="16.2" lengthAdjust="spacingAndGlyphs" text-anchor="middle">12</text>
<text x="166.4" y="945.9" font-size="14" fill="#111" font-family="'Liberation Sans', Arial, sans-serif" textLength="16.2" lengthAdjust="spacingAndGlyphs" text-anchor="middle">19</text>
<text x="206.9" y="945.9" font-size="14" fill="#111" font-family="'Liberation Sans', Arial, sans-serif" textLength="16.2" lengthAdjust="spacingAndGlyphs" text-anchor="middle">27</text>
<text x="280.4" y="945.9" font-size="14" fill="#111" font-family="'Liberation Sans', Arial, sans-serif" textLength="8.1" lengthAdjust="spacingAndGlyphs" text-anchor="middle">9</text>
<text x="320.9" y="945.9" font-size="14" fill="#111" font-family="'Liberation Sans', Arial, sans-serif" textLength="16.2" lengthAdjust="spacingAndGlyphs" text-anchor="middle">16</text>
<text x="352.4" y="945.9" font-size="14" fill="#111" font-family="'Liberation Sans', Arial, sans-serif" textLength="16.2" lengthAdjust="spacingAndGlyphs" text-anchor="middle">23</text>
<text x="425.9" y="945.9" font-size="14" fill="#111" font-family="'Liberation Sans', Arial, sans-serif" textLength="8.1" lengthAdjust="spacingAndGlyphs" text-anchor="middle">7</text>
<text x="466.4" y="945.9" font-size="14" fill="#111" font-family="'Liberation Sans', Arial, sans-serif" textLength="16.2" lengthAdjust="spacingAndGlyphs" text-anchor="middle">14</text>
<text x="506.9" y="945.9" font-size="14" fill="#111" font-family="'Liberation Sans', Arial, sans-serif" textLength="16.2" lengthAdjust="spacingAndGlyphs" text-anchor="middle">21</text>
<text x="547.5" y="945.9" font-size="14" fill="#111" font-family="'Liberation Sans', Arial, sans-serif" textLength="16.2" lengthAdjust="spacingAndGlyphs" text-anchor="middle">28</text>
<text x="627" y="945.9" font-size="14" fill="#111" font-family="'Liberation Sans', Arial, sans-serif" textLength="16.2" lengthAdjust="spacingAndGlyphs" text-anchor="middle">11</text>
<text x="667.5" y="945.9" font-size="14" fill="#111" font-family="'Liberation Sans', Arial, sans-serif" textLength="16.2" lengthAdjust="spacingAndGlyphs" text-anchor="middle">18</text>
<text x="708" y="945.9" font-size="14" fill="#111" font-family="'Liberation Sans', Arial, sans-serif" textLength="16.2" lengthAdjust="spacingAndGlyphs" text-anchor="middle">25</text>
<text x="781.5" y="945.9" font-size="14" fill="#111" font-family="'Liberation Sans', Arial, sans-serif" textLength="8.1" lengthAdjust="spacingAndGlyphs" text-anchor="middle">8</text>
<text x="822" y="945.9" font-size="14" fill="#111" font-family="'Liberation Sans', Arial, sans-serif" textLength="16.2" lengthAdjust="spacingAndGlyphs" text-anchor="middle">15</text>
<text x="862.5" y="945.9" font-size="14" fill="#111" font-family="'Liberation Sans', Arial, sans-serif" textLength="16.2" lengthAdjust="spacingAndGlyphs" text-anchor="middle">22</text>
<text x="943.5" y="945.9" font-size="14" fill="#111" font-family="'Liberation Sans', Arial, sans-serif" textLength="8.1" lengthAdjust="spacingAndGlyphs" text-anchor="middle">6</text>
<text x="982.5" y="945.9" font-size="14" fill="#111" font-family="'Liberation Sans', Arial, sans-serif" textLength="16.2" lengthAdjust="spacingAndGlyphs" text-anchor="middle">13</text>
<text x="1023" y="945.9" font-size="14" fill="#111" font-family="'Liberation Sans', Arial, sans-serif" textLength="16.2" lengthAdjust="spacingAndGlyphs" text-anchor="middle">20</text>
<text x="1063.5" y="945.9" font-size="14" fill="#111" font-family="'Liberation Sans', Arial, sans-serif" textLength="16.2" lengthAdjust="spacingAndGlyphs" text-anchor="middle">27</text>
<text x="1144.5" y="945.9" font-size="14" fill="#111" font-family="'Liberation Sans', Arial, sans-serif" textLength="16.2" lengthAdjust="spacingAndGlyphs" text-anchor="middle">10</text>
<text x="1185" y="945.9" font-size="14" fill="#111" font-family="'Liberation Sans', Arial, sans-serif" textLength="16.2" lengthAdjust="spacingAndGlyphs" text-anchor="middle">17</text>
<text x="72.2" y="946.1" font-size="15.6" fill="#000" font-family="'Liberation Sans', Arial, sans-serif" font-weight="bold" textLength="32.5" lengthAdjust="spacingAndGlyphs" text-anchor="middle">May</text>
<text x="241.8" y="946.1" font-size="15.6" fill="#000" font-family="'Liberation Sans', Arial, sans-serif" font-weight="bold" textLength="28.4" lengthAdjust="spacingAndGlyphs" text-anchor="middle">Jun</text>
<text x="403.8" y="946.1" font-size="15.6" fill="#000" font-family="'Liberation Sans', Arial, sans-serif" font-weight="bold" textLength="21.6" lengthAdjust="spacingAndGlyphs" text-anchor="middle">Jul</text>
<text x="580.8" y="946.1" font-size="15.6" fill="#000" font-family="'Liberation Sans', Arial, sans-serif" font-weight="bold" textLength="32.3" lengthAdjust="spacingAndGlyphs" text-anchor="middle">Aug</text>
<text x="750.2" y="946.1" font-size="15.6" fill="#000" font-family="'Liberation Sans', Arial, sans-serif" font-weight="bold" textLength="31.7" lengthAdjust="spacingAndGlyphs" text-anchor="middle">Sep</text>
<text x="919.8" y="946.1" font-size="15.6" fill="#000" font-family="'Liberation Sans', Arial, sans-serif" font-weight="bold" textLength="25.7" lengthAdjust="spacingAndGlyphs" text-anchor="middle">Oct</text>
<text x="1105.8" y="946.1" font-size="15.6" fill="#000" font-family="'Liberation Sans', Arial, sans-serif" font-weight="bold" textLength="29.3" lengthAdjust="spacingAndGlyphs" text-anchor="middle">Nov</text>
<rect x="18" y="532.6" width="111" height="22.6" fill="#c8c8c8"/>
<text x="23.3" y="549.6" font-size="14.5" fill="#1a1a1a" font-family="'Liberation Sans', Arial, sans-serif" textLength="101" lengthAdjust="spacingAndGlyphs">18 Nov Y:55.06</text>
<line x1="1221" y1="69.5" x2="1224.4" y2="69.5" stroke="#15224f" stroke-width="1.4"/>
<text x="1225.7" y="72.3" font-size="14.4" fill="#111" font-family="'Liberation Sans', Arial, sans-serif" textLength="18" lengthAdjust="spacingAndGlyphs">90</text>
<line x1="1221" y1="90.5" x2="1224.4" y2="90.5" stroke="#15224f" stroke-width="1.4"/>
<text x="1225.7" y="93.3" font-size="14.4" fill="#111" font-family="'Liberation Sans', Arial, sans-serif" textLength="18" lengthAdjust="spacingAndGlyphs">70</text>
<line x1="1221" y1="132.5" x2="1224.4" y2="132.5" stroke="#15224f" stroke-width="1.4"/>
<text x="1225.7" y="135.4" font-size="14.4" fill="#111" font-family="'Liberation Sans', Arial, sans-serif" textLength="18" lengthAdjust="spacingAndGlyphs">30</text>
<line x1="1221" y1="153.5" x2="1224.4" y2="153.5" stroke="#15224f" stroke-width="1.4"/>
<text x="1225.7" y="156.5" font-size="14.4" fill="#111" font-family="'Liberation Sans', Arial, sans-serif" textLength="18" lengthAdjust="spacingAndGlyphs">10</text>
<line x1="1221" y1="189.5" x2="1224.4" y2="189.5" stroke="#15224f" stroke-width="1.4"/>
<text x="1225.7" y="193.6" font-size="14.4" fill="#111" font-family="'Liberation Sans', Arial, sans-serif" textLength="18" lengthAdjust="spacingAndGlyphs">54</text>
<line x1="1221" y1="214.5" x2="1224.4" y2="214.5" stroke="#15224f" stroke-width="1.4"/>
<text x="1225.7" y="217.7" font-size="14.4" fill="#111" font-family="'Liberation Sans', Arial, sans-serif" textLength="18" lengthAdjust="spacingAndGlyphs">52</text>
<line x1="1221" y1="238.5" x2="1224.4" y2="238.5" stroke="#15224f" stroke-width="1.4"/>
<text x="1225.7" y="241.8" font-size="14.4" fill="#111" font-family="'Liberation Sans', Arial, sans-serif" textLength="18" lengthAdjust="spacingAndGlyphs">50</text>
<line x1="1221" y1="264.5" x2="1224.4" y2="264.5" stroke="#15224f" stroke-width="1.4"/>
<text x="1225.7" y="268.3" font-size="14.4" fill="#111" font-family="'Liberation Sans', Arial, sans-serif" textLength="18" lengthAdjust="spacingAndGlyphs">48</text>
<line x1="1221" y1="290.5" x2="1224.4" y2="290.5" stroke="#15224f" stroke-width="1.4"/>
<text x="1225.7" y="294.7" font-size="14.4" fill="#111" font-family="'Liberation Sans', Arial, sans-serif" textLength="18" lengthAdjust="spacingAndGlyphs">46</text>
<line x1="1221" y1="318.5" x2="1224.4" y2="318.5" stroke="#15224f" stroke-width="1.4"/>
<text x="1225.7" y="322.1" font-size="14.4" fill="#111" font-family="'Liberation Sans', Arial, sans-serif" textLength="18" lengthAdjust="spacingAndGlyphs">44</text>
<line x1="1221" y1="347.5" x2="1224.4" y2="347.5" stroke="#15224f" stroke-width="1.4"/>
<text x="1225.7" y="351.3" font-size="14.4" fill="#111" font-family="'Liberation Sans', Arial, sans-serif" textLength="18" lengthAdjust="spacingAndGlyphs">42</text>
<line x1="1221" y1="377.5" x2="1224.4" y2="377.5" stroke="#15224f" stroke-width="1.4"/>
<text x="1225.7" y="381.5" font-size="14.4" fill="#111" font-family="'Liberation Sans', Arial, sans-serif" textLength="18" lengthAdjust="spacingAndGlyphs">40</text>
<line x1="1221" y1="409.5" x2="1224.4" y2="409.5" stroke="#15224f" stroke-width="1.4"/>
<text x="1225.7" y="413.4" font-size="14.4" fill="#111" font-family="'Liberation Sans', Arial, sans-serif" textLength="18" lengthAdjust="spacingAndGlyphs">38</text>
<line x1="1221" y1="444.5" x2="1224.4" y2="444.5" stroke="#15224f" stroke-width="1.4"/>
<text x="1225.7" y="447.7" font-size="14.4" fill="#111" font-family="'Liberation Sans', Arial, sans-serif" textLength="18" lengthAdjust="spacingAndGlyphs">36</text>
<line x1="1221" y1="479.5" x2="1224.4" y2="479.5" stroke="#15224f" stroke-width="1.4"/>
<text x="1225.7" y="483.2" font-size="14.4" fill="#111" font-family="'Liberation Sans', Arial, sans-serif" textLength="18" lengthAdjust="spacingAndGlyphs">34</text>
<line x1="1221" y1="516.5" x2="1224.4" y2="516.5" stroke="#15224f" stroke-width="1.4"/>
<text x="1225.7" y="520.1" font-size="14.4" fill="#111" font-family="'Liberation Sans', Arial, sans-serif" textLength="18" lengthAdjust="spacingAndGlyphs">32</text>
<line x1="1221" y1="524.5" x2="1223" y2="524.5" stroke="#15224f" stroke-width="1.4"/>
<line x1="1221" y1="509.5" x2="1223" y2="509.5" stroke="#15224f" stroke-width="1.4"/>
<line x1="1221" y1="501.5" x2="1223" y2="501.5" stroke="#15224f" stroke-width="1.4"/>
<line x1="1221" y1="494.5" x2="1223" y2="494.5" stroke="#15224f" stroke-width="1.4"/>
<line x1="1221" y1="486.5" x2="1223" y2="486.5" stroke="#15224f" stroke-width="1.4"/>
<line x1="1221" y1="471.5" x2="1223" y2="471.5" stroke="#15224f" stroke-width="1.4"/>
<line x1="1221" y1="464.5" x2="1223" y2="464.5" stroke="#15224f" stroke-width="1.4"/>
<line x1="1221" y1="457.5" x2="1223" y2="457.5" stroke="#15224f" stroke-width="1.4"/>
<line x1="1221" y1="450.5" x2="1223" y2="450.5" stroke="#15224f" stroke-width="1.4"/>
<line x1="1221" y1="436.5" x2="1223" y2="436.5" stroke="#15224f" stroke-width="1.4"/>
<line x1="1221" y1="429.5" x2="1223" y2="429.5" stroke="#15224f" stroke-width="1.4"/>
<line x1="1221" y1="422.5" x2="1223" y2="422.5" stroke="#15224f" stroke-width="1.4"/>
<line x1="1221" y1="416.5" x2="1223" y2="416.5" stroke="#15224f" stroke-width="1.4"/>
<line x1="1221" y1="403.5" x2="1223" y2="403.5" stroke="#15224f" stroke-width="1.4"/>
<line x1="1221" y1="396.5" x2="1223" y2="396.5" stroke="#15224f" stroke-width="1.4"/>
<line x1="1221" y1="390.5" x2="1223" y2="390.5" stroke="#15224f" stroke-width="1.4"/>
<line x1="1221" y1="383.5" x2="1223" y2="383.5" stroke="#15224f" stroke-width="1.4"/>
<line x1="1221" y1="371.5" x2="1223" y2="371.5" stroke="#15224f" stroke-width="1.4"/>
<line x1="1221" y1="365.5" x2="1223" y2="365.5" stroke="#15224f" stroke-width="1.4"/>
<line x1="1221" y1="359.5" x2="1223" y2="359.5" stroke="#15224f" stroke-width="1.4"/>
<line x1="1221" y1="353.5" x2="1223" y2="353.5" stroke="#15224f" stroke-width="1.4"/>
<line x1="1221" y1="341.5" x2="1223" y2="341.5" stroke="#15224f" stroke-width="1.4"/>
<line x1="1221" y1="335.5" x2="1223" y2="335.5" stroke="#15224f" stroke-width="1.4"/>
<line x1="1221" y1="329.5" x2="1223" y2="329.5" stroke="#15224f" stroke-width="1.4"/>
<line x1="1221" y1="323.5" x2="1223" y2="323.5" stroke="#15224f" stroke-width="1.4"/>
<line x1="1221" y1="312.5" x2="1223" y2="312.5" stroke="#15224f" stroke-width="1.4"/>
<line x1="1221" y1="306.5" x2="1223" y2="306.5" stroke="#15224f" stroke-width="1.4"/>
<line x1="1221" y1="301.5" x2="1223" y2="301.5" stroke="#15224f" stroke-width="1.4"/>
<line x1="1221" y1="295.5" x2="1223" y2="295.5" stroke="#15224f" stroke-width="1.4"/>
<line x1="1221" y1="284.5" x2="1223" y2="284.5" stroke="#15224f" stroke-width="1.4"/>
<line x1="1221" y1="279.5" x2="1223" y2="279.5" stroke="#15224f" stroke-width="1.4"/>
<line x1="1221" y1="274.5" x2="1223" y2="274.5" stroke="#15224f" stroke-width="1.4"/>
<line x1="1221" y1="268.5" x2="1223" y2="268.5" stroke="#15224f" stroke-width="1.4"/>
<line x1="1221" y1="258.5" x2="1223" y2="258.5" stroke="#15224f" stroke-width="1.4"/>
<line x1="1221" y1="253.5" x2="1223" y2="253.5" stroke="#15224f" stroke-width="1.4"/>
<line x1="1221" y1="248.5" x2="1223" y2="248.5" stroke="#15224f" stroke-width="1.4"/>
<line x1="1221" y1="243.5" x2="1223" y2="243.5" stroke="#15224f" stroke-width="1.4"/>
<line x1="1221" y1="233.5" x2="1223" y2="233.5" stroke="#15224f" stroke-width="1.4"/>
<line x1="1221" y1="228.5" x2="1223" y2="228.5" stroke="#15224f" stroke-width="1.4"/>
<line x1="1221" y1="223.5" x2="1223" y2="223.5" stroke="#15224f" stroke-width="1.4"/>
<line x1="1221" y1="218.5" x2="1223" y2="218.5" stroke="#15224f" stroke-width="1.4"/>
<line x1="1221" y1="208.5" x2="1223" y2="208.5" stroke="#15224f" stroke-width="1.4"/>
<line x1="1221" y1="204.5" x2="1223" y2="204.5" stroke="#15224f" stroke-width="1.4"/>
<line x1="1221" y1="199.5" x2="1223" y2="199.5" stroke="#15224f" stroke-width="1.4"/>
<line x1="1221" y1="194.5" x2="1223" y2="194.5" stroke="#15224f" stroke-width="1.4"/>
<line x1="1221" y1="185.5" x2="1223" y2="185.5" stroke="#15224f" stroke-width="1.4"/>
<line x1="1221" y1="180.5" x2="1223" y2="180.5" stroke="#15224f" stroke-width="1.4"/>
<line x1="1221" y1="176.5" x2="1223" y2="176.5" stroke="#15224f" stroke-width="1.4"/>
<line x1="1221" y1="686.5" x2="1224.4" y2="686.5" stroke="#15224f" stroke-width="1.4"/>
<text x="1225.7" y="690.5" font-size="14.4" fill="#111" font-family="'Liberation Sans', Arial, sans-serif" textLength="8.8" lengthAdjust="spacingAndGlyphs">3</text>
<line x1="1221" y1="752.5" x2="1224.4" y2="752.5" stroke="#15224f" stroke-width="1.4"/>
<text x="1225.7" y="755.7" font-size="14.4" fill="#111" font-family="'Liberation Sans', Arial, sans-serif" textLength="8.8" lengthAdjust="spacingAndGlyphs">1</text>
<text x="1225.7" y="788.3" font-size="14.4" fill="#111" font-family="'Liberation Sans', Arial, sans-serif" textLength="8.8" lengthAdjust="spacingAndGlyphs">0</text>
<line x1="1221" y1="800.5" x2="1223" y2="800.5" stroke="#15224f" stroke-width="1.4"/>
<line x1="1221" y1="792.5" x2="1223" y2="792.5" stroke="#15224f" stroke-width="1.4"/>
<line x1="1221" y1="784.5" x2="1223" y2="784.5" stroke="#15224f" stroke-width="1.4"/>
<line x1="1221" y1="776.5" x2="1223" y2="776.5" stroke="#15224f" stroke-width="1.4"/>
<line x1="1221" y1="768.5" x2="1223" y2="768.5" stroke="#15224f" stroke-width="1.4"/>
<line x1="1221" y1="760.5" x2="1223" y2="760.5" stroke="#15224f" stroke-width="1.4"/>
<line x1="1221" y1="752.5" x2="1223" y2="752.5" stroke="#15224f" stroke-width="1.4"/>
<line x1="1221" y1="743.5" x2="1223" y2="743.5" stroke="#15224f" stroke-width="1.4"/>
<line x1="1221" y1="735.5" x2="1223" y2="735.5" stroke="#15224f" stroke-width="1.4"/>
<line x1="1221" y1="727.5" x2="1223" y2="727.5" stroke="#15224f" stroke-width="1.4"/>
<line x1="1221" y1="719.5" x2="1223" y2="719.5" stroke="#15224f" stroke-width="1.4"/>
<line x1="1221" y1="711.5" x2="1223" y2="711.5" stroke="#15224f" stroke-width="1.4"/>
<line x1="1221" y1="703.5" x2="1223" y2="703.5" stroke="#15224f" stroke-width="1.4"/>
<line x1="1221" y1="694.5" x2="1223" y2="694.5" stroke="#15224f" stroke-width="1.4"/>
<line x1="1221" y1="686.5" x2="1223" y2="686.5" stroke="#15224f" stroke-width="1.4"/>
<line x1="1221" y1="837.5" x2="1224.4" y2="837.5" stroke="#15224f" stroke-width="1.4"/>
<text x="1225.7" y="841.4" font-size="14.4" fill="#111" font-family="'Liberation Sans', Arial, sans-serif" textLength="18" lengthAdjust="spacingAndGlyphs">80</text>
<line x1="1221" y1="900.5" x2="1224.4" y2="900.5" stroke="#15224f" stroke-width="1.4"/>
<text x="1225.7" y="904.1" font-size="14.4" fill="#111" font-family="'Liberation Sans', Arial, sans-serif" textLength="18" lengthAdjust="spacingAndGlyphs">20</text>
<text x="1225.7" y="872.7" font-size="14.4" fill="#111" font-family="'Liberation Sans', Arial, sans-serif" textLength="18" lengthAdjust="spacingAndGlyphs">50</text>
<path d="M1218 107.8 L1223.4 100.5 L1262 100.5 L1262 115.1 L1223.4 115.1 Z" fill="#fff" stroke="#2a4f9a" stroke-width="1.6" stroke-linejoin="miter"/>
<text x="1225" y="112.7" font-size="14" fill="#111" font-family="'Liberation Sans', Arial, sans-serif" textLength="40" lengthAdjust="spacingAndGlyphs">52.27</text>
<path d="M1218 250.7 L1223.4 243.4 L1262 243.4 L1262 258 L1223.4 258 Z" fill="#fff" stroke="#1a7a22" stroke-width="1.6" stroke-linejoin="miter"/>
<text x="1225" y="255.6" font-size="14" fill="#111" font-family="'Liberation Sans', Arial, sans-serif" textLength="40" lengthAdjust="spacingAndGlyphs">49.00</text>
<path d="M1218 284.9 L1223.4 277.6 L1262 277.6 L1262 292.2 L1223.4 292.2 Z" fill="#fff" stroke="#dc1440" stroke-width="1.6" stroke-linejoin="miter"/>
<text x="1225" y="289.8" font-size="14" fill="#111" font-family="'Liberation Sans', Arial, sans-serif" textLength="40" lengthAdjust="spacingAndGlyphs">46.37</text>
<path d="M1218 318.2 L1223.4 310.9 L1262 310.9 L1262 325.5 L1223.4 325.5 Z" fill="#fff" stroke="#0c0c9c" stroke-width="1.6" stroke-linejoin="miter"/>
<text x="1225" y="323.1" font-size="14" fill="#111" font-family="'Liberation Sans', Arial, sans-serif" textLength="40" lengthAdjust="spacingAndGlyphs">43.98</text>
<path d="M1218 255 L1223.4 247 L1262 247 L1262 263 L1223.4 263 Z" fill="#fff" stroke="#111" stroke-width="1.6" stroke-linejoin="miter"/>
<text x="1224.4" y="260.6" font-size="15.5" fill="#000" font-family="'Liberation Sans', Arial, sans-serif" font-weight="bold" textLength="41" lengthAdjust="spacingAndGlyphs" stroke="#000" stroke-width="0.5">48.57</text>
<path d="M1218 703.5 L1223.4 696.2 L1262 696.2 L1262 710.8 L1223.4 710.8 Z" fill="#fff" stroke="#ee1540" stroke-width="1.6" stroke-linejoin="miter"/>
<text x="1225" y="708.4" font-size="14" fill="#111" font-family="'Liberation Sans', Arial, sans-serif" textLength="40" lengthAdjust="spacingAndGlyphs">2.415</text>
<path d="M1218 716.6 L1223.4 709.3 L1262 709.3 L1262 723.9 L1223.4 723.9 Z" fill="#fff" stroke="#2a4f9a" stroke-width="1.6" stroke-linejoin="miter"/>
<text x="1225" y="721.5" font-size="14" fill="#111" font-family="'Liberation Sans', Arial, sans-serif" textLength="40" lengthAdjust="spacingAndGlyphs">2.049</text>
<path d="M1218 794.4 L1223.4 787.1 L1262 787.1 L1262 801.7 L1223.4 801.7 Z" fill="#fff" stroke="#2a4f9a" stroke-width="1.6" stroke-linejoin="miter"/>
<text x="1225" y="799.3" font-size="14" fill="#111" font-family="'Liberation Sans', Arial, sans-serif" textLength="46" lengthAdjust="spacingAndGlyphs">-0.366</text>
<path d="M1218 856 L1223.4 848.7 L1262 848.7 L1262 863.3 L1223.4 863.3 Z" fill="#fff" stroke="#ee1540" stroke-width="1.6" stroke-linejoin="miter"/>
<text x="1225" y="860.9" font-size="14" fill="#111" font-family="'Liberation Sans', Arial, sans-serif" textLength="40" lengthAdjust="spacingAndGlyphs">61.65</text>
<path d="M1218 875.5 L1223.4 868.2 L1262 868.2 L1262 882.8 L1223.4 882.8 Z" fill="#fff" stroke="#2a4f9a" stroke-width="1.6" stroke-linejoin="miter"/>
<text x="1225" y="880.4" font-size="14" fill="#111" font-family="'Liberation Sans', Arial, sans-serif" textLength="40" lengthAdjust="spacingAndGlyphs">43.98</text>
<text x="18.7" y="25.3" font-size="20" fill="#000" font-family="'Liberation Sans', Arial, sans-serif" font-weight="bold" textLength="80" lengthAdjust="spacingAndGlyphs">$SILVER</text>
<text x="104.4" y="25.3" font-size="16" fill="#111" font-family="'Liberation Sans', Arial, sans-serif" textLength="135.7" lengthAdjust="spacingAndGlyphs">Silver - Spot (EOD)</text>
<text x="248.2" y="25.3" font-size="13" fill="#111" font-family="'Liberation Sans', Arial, sans-serif" textLength="32.2" lengthAdjust="spacingAndGlyphs">CME</text>
<text x="18.2" y="43.2" font-size="13" fill="#111" font-family="'Liberation Sans', Arial, sans-serif" textLength="86.6" lengthAdjust="spacingAndGlyphs" letter-spacing="0.7">22-Oct-2025</text>
<text x="1087" y="24.2" font-size="15" fill="#3a4763" font-family="'Liberation Sans', Arial, sans-serif" textLength="133.6" lengthAdjust="spacingAndGlyphs">© StockCharts.com</text>
<text x="689" y="43.2" font-size="15.4" fill="#000" font-family="'Liberation Sans', Arial, sans-serif" font-weight="bold" textLength="41.8" lengthAdjust="spacingAndGlyphs" stroke="#000" stroke-width="0.3">Open</text>
<text x="737.1" y="43.2" font-size="14" fill="#111" font-family="'Liberation Sans', Arial, sans-serif" textLength="39.3" lengthAdjust="spacingAndGlyphs">49.25</text>
<text x="786.1" y="43.2" font-size="15.4" fill="#000" font-family="'Liberation Sans', Arial, sans-serif" font-weight="bold" textLength="34.8" lengthAdjust="spacingAndGlyphs" stroke="#000" stroke-width="0.3">High</text>
<text x="827.2" y="43.2" font-size="14" fill="#111" font-family="'Liberation Sans', Arial, sans-serif" textLength="39.3" lengthAdjust="spacingAndGlyphs">49.29</text>
<text x="875.9" y="43.2" font-size="15.4" fill="#000" font-family="'Liberation Sans', Arial, sans-serif" font-weight="bold" textLength="34.6" lengthAdjust="spacingAndGlyphs" stroke="#000" stroke-width="0.3">Low</text>
<text x="916.5" y="43.2" font-size="14" fill="#111" font-family="'Liberation Sans', Arial, sans-serif" textLength="39.6" lengthAdjust="spacingAndGlyphs">47.52</text>
<text x="966.5" y="43.2" font-size="15.4" fill="#000" font-family="'Liberation Sans', Arial, sans-serif" font-weight="bold" textLength="45.9" lengthAdjust="spacingAndGlyphs" stroke="#000" stroke-width="0.3">Close</text>
<text x="1019.2" y="43.2" font-size="14" fill="#111" font-family="'Liberation Sans', Arial, sans-serif" textLength="38.1" lengthAdjust="spacingAndGlyphs">48.57</text>
<text x="1068.2" y="43.2" font-size="15.4" fill="#000" font-family="'Liberation Sans', Arial, sans-serif" font-weight="bold" textLength="31.8" lengthAdjust="spacingAndGlyphs" stroke="#000" stroke-width="0.3">Chg</text>
<text x="1105.5" y="43.2" font-size="14" fill="#111" font-family="'Liberation Sans', Arial, sans-serif" textLength="99.8" lengthAdjust="spacingAndGlyphs">-0.14 (-0.29%)</text>
<path d="M1209 36.8 L1219.4 36.8 L1214.2 42.6 Z" fill="#cc0a33"/>
<rect x="20" y="49.5" width="141" height="15.5" fill="#fff"/>
<rect x="20" y="175" width="205" height="15.5" fill="#fff"/>
<rect x="20" y="191.5" width="108" height="16" fill="#fff"/>
<rect x="20" y="208" width="108" height="16" fill="#fff"/>
<rect x="20" y="224.5" width="117" height="16" fill="#fff"/>
<rect x="20" y="556" width="140" height="15.5" fill="#fff"/>
<rect x="20" y="681.5" width="330" height="15.5" fill="#fff"/>
<rect x="20" y="807.5" width="350" height="15.5" fill="#fff"/>
<path d="M22.8 62.8 L22.8 60.5 L26 54 L29.2 50.4 L31 55 L32.8 59.3 L35.2 53.2 L35.6 53.2 L35.6 62.8 Z" fill="#6fa2f0"/>
<path d="M22.8 62.8 L22.8 60.5 L26 54 L29.2 50.4 L31 55 L32.8 59.3 L35.2 53.2 L35.6 53.2 L35.6 62.8" fill="none" stroke="#0c2f8e" stroke-width="1.8" stroke-linejoin="round"/>
<text x="42" y="63.3" font-size="14.6" fill="#111" font-family="'DejaVu Sans', 'Liberation Sans', sans-serif" textLength="117" lengthAdjust="spacingAndGlyphs" letter-spacing="0.8">RSI(14) 52.27</text>
<path d="M24 179.5 V189.5 M27.5 181 V188 M32 179.5 V189.5" stroke="#000" stroke-width="1.3" fill="none"/>
<rect x="22.3" y="181" width="3.4" height="5" fill="#000"/><rect x="30.2" y="181.4" width="3.6" height="6" fill="#fff" stroke="#000" stroke-width="1.3"/><rect x="26.4" y="183" width="2.6" height="4" fill="#000"/>
<text x="41.7" y="189.2" font-size="14.6" fill="#111" font-family="'DejaVu Sans', 'Liberation Sans', sans-serif" textLength="182" lengthAdjust="spacingAndGlyphs" letter-spacing="0.8">$SILVER (Daily) 48.57</text>
<line x1="22.6" y1="200.3" x2="35.5" y2="200.3" stroke="#0c0c9c" stroke-width="2.8"/>
<text x="38.6" y="205.9" font-size="13.8" fill="#1414a4" font-family="'Liberation Sans', Arial, sans-serif" textLength="87.6" lengthAdjust="spacingAndGlyphs" stroke="#1414a4" stroke-width="0.3">MA(50) 43.98</text>
<line x1="22.6" y1="216.7" x2="35.5" y2="216.7" stroke="#dc1440" stroke-width="2.8"/>
<text x="38.6" y="222.2" font-size="13.8" fill="#dc1440" font-family="'Liberation Sans', Arial, sans-serif" textLength="87.6" lengthAdjust="spacingAndGlyphs" stroke="#dc1440" stroke-width="0.3">MA(34) 46.37</text>
<line x1="22.6" y1="233.2" x2="35.5" y2="233.2" stroke="#14701c" stroke-width="2.8"/>
<text x="38.6" y="238.8" font-size="13.8" fill="#14701c" font-family="'Liberation Sans', Arial, sans-serif" textLength="96.4" lengthAdjust="spacingAndGlyphs" stroke="#14701c" stroke-width="0.3">EMA(20) 49.00</text>
<rect x="23" y="563.2" width="3.4" height="5.8" fill="#3b6fc8" stroke="#15408f" stroke-width="1"/>
<rect x="27.5" y="557.9" width="3.4" height="11.1" fill="#3b6fc8" stroke="#15408f" stroke-width="1"/>
<rect x="32.3" y="560.8" width="3.4" height="8.2" fill="#3b6fc8" stroke="#15408f" stroke-width="1"/>
<text x="41.3" y="569.2" font-size="14.6" fill="#111" font-family="'DejaVu Sans', 'Liberation Sans', sans-serif" textLength="116.6" lengthAdjust="spacingAndGlyphs" letter-spacing="0.8">Volume undef</text>
<line x1="22.2" y1="689.6" x2="35.6" y2="689.6" stroke="#1c3b7c" stroke-width="2.4"/>
<text x="41.6" y="695.1" font-size="14.6" fill="#111" font-family="'DejaVu Sans', 'Liberation Sans', sans-serif" textLength="126.3" lengthAdjust="spacingAndGlyphs" letter-spacing="0.8">MACD(12,26,9)</text>
<text x="175" y="695.1" font-size="14.6" fill="#24458c" font-family="'DejaVu Sans', 'Liberation Sans', sans-serif" textLength="45.7" lengthAdjust="spacingAndGlyphs" letter-spacing="0.8">2.049</text>
<text x="222.5" y="695.1" font-size="14.6" fill="#ee1540" font-family="'DejaVu Sans', 'Liberation Sans', sans-serif">,</text>
<text x="235" y="695.1" font-size="14.6" fill="#ee1540" font-family="'DejaVu Sans', 'Liberation Sans', sans-serif" textLength="45.7" lengthAdjust="spacingAndGlyphs" letter-spacing="0.8">2.415</text>
<text x="282.5" y="695.1" font-size="14.6" fill="#5b9bf0" font-family="'DejaVu Sans', 'Liberation Sans', sans-serif">,</text>
<text x="296.4" y="695.1" font-size="14.6" fill="#5b9bf0" font-family="'DejaVu Sans', 'Liberation Sans', sans-serif" textLength="51.5" lengthAdjust="spacingAndGlyphs" letter-spacing="0.8">-0.366</text>
<line x1="22.2" y1="815.6" x2="35.6" y2="815.6" stroke="#1c3b7c" stroke-width="2.4"/>
<text x="41.6" y="821.1" font-size="14.6" fill="#111" font-family="'DejaVu Sans', 'Liberation Sans', sans-serif" textLength="212" lengthAdjust="spacingAndGlyphs" letter-spacing="0.8">Full STO %K(14,3) %D(3)</text>
<text x="262.1" y="821.1" font-size="14.6" fill="#24458c" font-family="'DejaVu Sans', 'Liberation Sans', sans-serif" textLength="52.9" lengthAdjust="spacingAndGlyphs" letter-spacing="0.8">43.98,</text>
<text x="322.1" y="821.1" font-size="14.6" fill="#ee1540" font-family="'DejaVu Sans', 'Liberation Sans', sans-serif" textLength="45.8" lengthAdjust="spacingAndGlyphs" letter-spacing="0.8">61.65</text>
</svg>
</body></html>
